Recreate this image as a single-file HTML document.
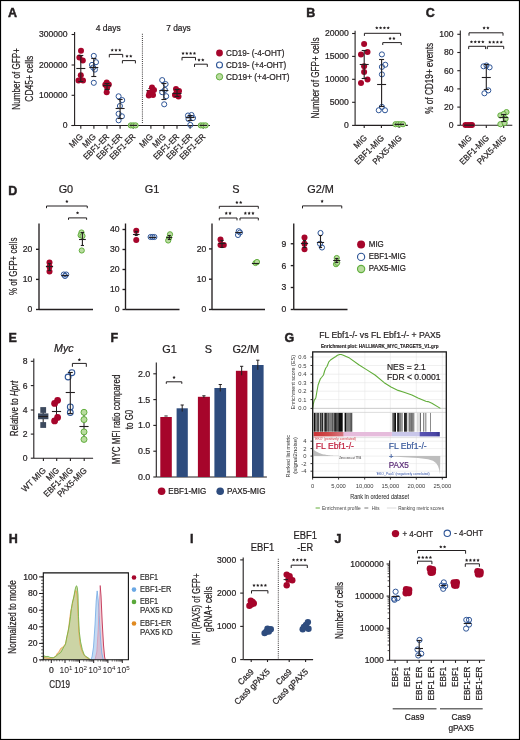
<!DOCTYPE html><html><head><meta charset="utf-8"><style>html,body{margin:0;padding:0;background:#fff;}svg{display:block;will-change:transform;}text{font-family:"Liberation Sans",sans-serif;}</style></head><body>
<svg width="520" height="740" viewBox="0 0 520 740" fill="#231f20">
<rect x="0" y="0" width="520" height="740" fill="#fff"/>
<text x="8" y="16.8" font-size="12.5" font-weight="bold" stroke="#231f20" stroke-width="0.45">A</text>
<text x="108.2" y="30.76" font-size="8.6" text-anchor="middle" stroke="#231f20" stroke-width="0.22" textLength="25" lengthAdjust="spacingAndGlyphs">4 days</text>
<text x="178.5" y="30.76" font-size="8.6" text-anchor="middle" stroke="#231f20" stroke-width="0.22" textLength="24.5" lengthAdjust="spacingAndGlyphs">7 days</text>
<text transform="translate(16.6 78.9) rotate(-90)" x="0" y="3.51" font-size="10.2" text-anchor="middle" stroke="#231f20" stroke-width="0.22" textLength="61.5" lengthAdjust="spacingAndGlyphs">Number of GFP+</text>
<text transform="translate(29 78.65) rotate(-90)" x="0" y="3.51" font-size="10.2" text-anchor="middle" stroke="#231f20" stroke-width="0.22" textLength="46" lengthAdjust="spacingAndGlyphs">CD45+ cells</text>
<line x1="74.6" y1="32" x2="74.6" y2="125.5" stroke="#231f20" stroke-width="1.1"/>
<line x1="71.6" y1="34.5" x2="74.6" y2="34.5" stroke="#231f20" stroke-width="1.1"/>
<text x="67.6" y="37.46" font-size="8.6" text-anchor="end" stroke="#231f20" stroke-width="0.22">300000</text>
<line x1="71.6" y1="65" x2="74.6" y2="65" stroke="#231f20" stroke-width="1.1"/>
<text x="67.6" y="67.96" font-size="8.6" text-anchor="end" stroke="#231f20" stroke-width="0.22">200000</text>
<line x1="71.6" y1="95.3" x2="74.6" y2="95.3" stroke="#231f20" stroke-width="1.1"/>
<text x="67.6" y="98.26" font-size="8.6" text-anchor="end" stroke="#231f20" stroke-width="0.22">100000</text>
<line x1="71.6" y1="125.5" x2="74.6" y2="125.5" stroke="#231f20" stroke-width="1.1"/>
<text x="67.6" y="128.46" font-size="8.6" text-anchor="end" stroke="#231f20" stroke-width="0.22">0</text>
<line x1="71.5" y1="125.5" x2="210" y2="125.5" stroke="#231f20" stroke-width="1.1"/>
<line x1="80.8" y1="125.5" x2="80.8" y2="128.7" stroke="#231f20" stroke-width="1.1"/>
<line x1="93.9" y1="125.5" x2="93.9" y2="128.7" stroke="#231f20" stroke-width="1.1"/>
<line x1="107" y1="125.5" x2="107" y2="128.7" stroke="#231f20" stroke-width="1.1"/>
<line x1="120.1" y1="125.5" x2="120.1" y2="128.7" stroke="#231f20" stroke-width="1.1"/>
<line x1="133.2" y1="125.5" x2="133.2" y2="128.7" stroke="#231f20" stroke-width="1.1"/>
<line x1="150.9" y1="125.5" x2="150.9" y2="128.7" stroke="#231f20" stroke-width="1.1"/>
<line x1="163.9" y1="125.5" x2="163.9" y2="128.7" stroke="#231f20" stroke-width="1.1"/>
<line x1="177" y1="125.5" x2="177" y2="128.7" stroke="#231f20" stroke-width="1.1"/>
<line x1="190.1" y1="125.5" x2="190.1" y2="128.7" stroke="#231f20" stroke-width="1.1"/>
<line x1="203.2" y1="125.5" x2="203.2" y2="128.7" stroke="#231f20" stroke-width="1.1"/>
<line x1="142.4" y1="33.8" x2="142.4" y2="124" stroke="#231f20" stroke-width="1" stroke-dasharray="0.9 1.2"/>
<text transform="translate(81.4 135.2) rotate(-45)" x="0" y="2.96" font-size="8.6" text-anchor="end" stroke="#231f20" stroke-width="0.22" textLength="15.5" lengthAdjust="spacingAndGlyphs">MIG</text>
<text transform="translate(94.5 135.2) rotate(-45)" x="0" y="2.96" font-size="8.6" text-anchor="end" stroke="#231f20" stroke-width="0.22" textLength="15.5" lengthAdjust="spacingAndGlyphs">MIG</text>
<text transform="translate(107.6 135.2) rotate(-45)" x="0" y="2.96" font-size="8.6" text-anchor="end" stroke="#231f20" stroke-width="0.22" textLength="32.5" lengthAdjust="spacingAndGlyphs">EBF1-ER</text>
<text transform="translate(120.7 135.2) rotate(-45)" x="0" y="2.96" font-size="8.6" text-anchor="end" stroke="#231f20" stroke-width="0.22" textLength="32.5" lengthAdjust="spacingAndGlyphs">EBF1-ER</text>
<text transform="translate(133.8 135.2) rotate(-45)" x="0" y="2.96" font-size="8.6" text-anchor="end" stroke="#231f20" stroke-width="0.22" textLength="32.5" lengthAdjust="spacingAndGlyphs">EBF1-ER</text>
<text transform="translate(151.5 135.2) rotate(-45)" x="0" y="2.96" font-size="8.6" text-anchor="end" stroke="#231f20" stroke-width="0.22" textLength="15.5" lengthAdjust="spacingAndGlyphs">MIG</text>
<text transform="translate(164.5 135.2) rotate(-45)" x="0" y="2.96" font-size="8.6" text-anchor="end" stroke="#231f20" stroke-width="0.22" textLength="15.5" lengthAdjust="spacingAndGlyphs">MIG</text>
<text transform="translate(177.6 135.2) rotate(-45)" x="0" y="2.96" font-size="8.6" text-anchor="end" stroke="#231f20" stroke-width="0.22" textLength="32.5" lengthAdjust="spacingAndGlyphs">EBF1-ER</text>
<text transform="translate(190.7 135.2) rotate(-45)" x="0" y="2.96" font-size="8.6" text-anchor="end" stroke="#231f20" stroke-width="0.22" textLength="32.5" lengthAdjust="spacingAndGlyphs">EBF1-ER</text>
<text transform="translate(203.8 135.2) rotate(-45)" x="0" y="2.96" font-size="8.6" text-anchor="end" stroke="#231f20" stroke-width="0.22" textLength="32.5" lengthAdjust="spacingAndGlyphs">EBF1-ER</text>
<circle cx="81" cy="50.8" r="3" fill="#a6052b"/>
<circle cx="79.4" cy="57.5" r="3" fill="#a6052b"/>
<circle cx="82.8" cy="60.5" r="3" fill="#a6052b"/>
<circle cx="80.8" cy="75.3" r="3" fill="#a6052b"/>
<circle cx="78.5" cy="80.5" r="3" fill="#a6052b"/>
<circle cx="83" cy="80.5" r="3" fill="#a6052b"/>
<line x1="76.3" y1="68.5" x2="85.3" y2="68.5" stroke="#231f20" stroke-width="1.1"/>
<line x1="80.8" y1="55.5" x2="80.8" y2="81.5" stroke="#231f20" stroke-width="1.1"/>
<line x1="78.3" y1="55.5" x2="83.3" y2="55.5" stroke="#231f20" stroke-width="1.1"/>
<line x1="78.3" y1="81.5" x2="83.3" y2="81.5" stroke="#231f20" stroke-width="1.1"/>
<circle cx="93.8" cy="55.9" r="2.55" fill="none" stroke="#2e5597" stroke-width="1"/>
<circle cx="96" cy="62.2" r="2.55" fill="none" stroke="#2e5597" stroke-width="1"/>
<circle cx="92" cy="64.9" r="2.55" fill="none" stroke="#2e5597" stroke-width="1"/>
<circle cx="94.9" cy="69.6" r="2.55" fill="none" stroke="#2e5597" stroke-width="1"/>
<circle cx="93.2" cy="67.5" r="2.55" fill="none" stroke="#2e5597" stroke-width="1"/>
<circle cx="93.8" cy="82.8" r="2.55" fill="none" stroke="#2e5597" stroke-width="1"/>
<line x1="89.3" y1="67.5" x2="98.3" y2="67.5" stroke="#231f20" stroke-width="1.1"/>
<line x1="93.8" y1="58.5" x2="93.8" y2="76.5" stroke="#231f20" stroke-width="1.1"/>
<line x1="91.3" y1="58.5" x2="96.3" y2="58.5" stroke="#231f20" stroke-width="1.1"/>
<line x1="91.3" y1="76.5" x2="96.3" y2="76.5" stroke="#231f20" stroke-width="1.1"/>
<circle cx="106.7" cy="82.4" r="3" fill="#a6052b"/>
<circle cx="105.3" cy="84.8" r="3" fill="#a6052b"/>
<circle cx="108.8" cy="84.5" r="3" fill="#a6052b"/>
<circle cx="107.2" cy="87.5" r="3" fill="#a6052b"/>
<circle cx="106.7" cy="92.2" r="3" fill="#a6052b"/>
<line x1="103" y1="85.5" x2="111" y2="85.5" stroke="#231f20" stroke-width="1.1"/>
<line x1="107" y1="83.5" x2="107" y2="89.5" stroke="#231f20" stroke-width="1.1"/>
<line x1="104.5" y1="83.5" x2="109.5" y2="83.5" stroke="#231f20" stroke-width="1.1"/>
<line x1="104.5" y1="89.5" x2="109.5" y2="89.5" stroke="#231f20" stroke-width="1.1"/>
<circle cx="118.6" cy="96.3" r="2.55" fill="none" stroke="#2e5597" stroke-width="1"/>
<circle cx="122.2" cy="100.1" r="2.55" fill="none" stroke="#2e5597" stroke-width="1"/>
<circle cx="119.9" cy="106" r="2.55" fill="none" stroke="#2e5597" stroke-width="1"/>
<circle cx="118.6" cy="113.8" r="2.55" fill="none" stroke="#2e5597" stroke-width="1"/>
<circle cx="121.9" cy="116.3" r="2.55" fill="none" stroke="#2e5597" stroke-width="1"/>
<circle cx="118.6" cy="120.3" r="2.55" fill="none" stroke="#2e5597" stroke-width="1"/>
<line x1="115.6" y1="108.5" x2="124.6" y2="108.5" stroke="#231f20" stroke-width="1.1"/>
<line x1="120.1" y1="99.5" x2="120.1" y2="118.5" stroke="#231f20" stroke-width="1.1"/>
<line x1="117.6" y1="99.5" x2="122.6" y2="99.5" stroke="#231f20" stroke-width="1.1"/>
<line x1="117.6" y1="118.5" x2="122.6" y2="118.5" stroke="#231f20" stroke-width="1.1"/>
<circle cx="130.8" cy="125.4" r="2.6" fill="#b9dc9f" stroke="#62ae3e" stroke-width="1"/>
<circle cx="133.2" cy="125.4" r="2.6" fill="#b9dc9f" stroke="#62ae3e" stroke-width="1"/>
<circle cx="135.6" cy="125.4" r="2.6" fill="#b9dc9f" stroke="#62ae3e" stroke-width="1"/>
<line x1="129.5" y1="125.4" x2="137" y2="125.4" stroke="#231f20" stroke-width="1.2"/>
<line x1="146.4" y1="90.5" x2="155.4" y2="90.5" stroke="#231f20" stroke-width="1.1"/>
<line x1="150.9" y1="88.5" x2="150.9" y2="94.5" stroke="#231f20" stroke-width="1.1"/>
<line x1="148.4" y1="88.5" x2="153.4" y2="88.5" stroke="#231f20" stroke-width="1.1"/>
<line x1="148.4" y1="94.5" x2="153.4" y2="94.5" stroke="#231f20" stroke-width="1.1"/>
<circle cx="152" cy="87.5" r="3" fill="#a6052b"/>
<circle cx="154" cy="90" r="3" fill="#a6052b"/>
<circle cx="149.5" cy="93" r="3" fill="#a6052b"/>
<circle cx="148.8" cy="95.5" r="3" fill="#a6052b"/>
<circle cx="152" cy="92" r="3" fill="#a6052b"/>
<circle cx="153" cy="95" r="3" fill="#a6052b"/>
<circle cx="162.2" cy="80.1" r="2.55" fill="none" stroke="#2e5597" stroke-width="1"/>
<circle cx="165.6" cy="84.1" r="2.55" fill="none" stroke="#2e5597" stroke-width="1"/>
<circle cx="164.9" cy="89.9" r="2.55" fill="none" stroke="#2e5597" stroke-width="1"/>
<circle cx="162.2" cy="92.2" r="2.55" fill="none" stroke="#2e5597" stroke-width="1"/>
<circle cx="166.2" cy="96.2" r="2.55" fill="none" stroke="#2e5597" stroke-width="1"/>
<circle cx="164.2" cy="104.3" r="2.55" fill="none" stroke="#2e5597" stroke-width="1"/>
<line x1="159.4" y1="90.5" x2="168.4" y2="90.5" stroke="#231f20" stroke-width="1.1"/>
<line x1="163.9" y1="83.5" x2="163.9" y2="99.5" stroke="#231f20" stroke-width="1.1"/>
<line x1="161.4" y1="83.5" x2="166.4" y2="83.5" stroke="#231f20" stroke-width="1.1"/>
<line x1="161.4" y1="99.5" x2="166.4" y2="99.5" stroke="#231f20" stroke-width="1.1"/>
<circle cx="176" cy="89" r="3" fill="#a6052b"/>
<circle cx="179" cy="91" r="3" fill="#a6052b"/>
<circle cx="175" cy="95" r="3" fill="#a6052b"/>
<circle cx="178.5" cy="96.5" r="3" fill="#a6052b"/>
<circle cx="176.5" cy="93" r="3" fill="#a6052b"/>
<line x1="172.5" y1="93.5" x2="181.5" y2="93.5" stroke="#231f20" stroke-width="1.1"/>
<line x1="177" y1="89.5" x2="177" y2="96.5" stroke="#231f20" stroke-width="1.1"/>
<line x1="174.5" y1="89.5" x2="179.5" y2="89.5" stroke="#231f20" stroke-width="1.1"/>
<line x1="174.5" y1="96.5" x2="179.5" y2="96.5" stroke="#231f20" stroke-width="1.1"/>
<circle cx="188" cy="115.5" r="2.55" fill="none" stroke="#2e5597" stroke-width="1"/>
<circle cx="191.5" cy="115" r="2.55" fill="none" stroke="#2e5597" stroke-width="1"/>
<circle cx="193" cy="118" r="2.55" fill="none" stroke="#2e5597" stroke-width="1"/>
<circle cx="188.5" cy="119" r="2.55" fill="none" stroke="#2e5597" stroke-width="1"/>
<circle cx="190.3" cy="124.9" r="2.55" fill="none" stroke="#2e5597" stroke-width="1"/>
<line x1="185.6" y1="117.5" x2="194.6" y2="117.5" stroke="#231f20" stroke-width="1.1"/>
<line x1="190.1" y1="115.5" x2="190.1" y2="120.5" stroke="#231f20" stroke-width="1.1"/>
<line x1="187.6" y1="115.5" x2="192.6" y2="115.5" stroke="#231f20" stroke-width="1.1"/>
<line x1="187.6" y1="120.5" x2="192.6" y2="120.5" stroke="#231f20" stroke-width="1.1"/>
<circle cx="200.8" cy="125.4" r="2.6" fill="#b9dc9f" stroke="#62ae3e" stroke-width="1"/>
<circle cx="203.2" cy="125.4" r="2.6" fill="#b9dc9f" stroke="#62ae3e" stroke-width="1"/>
<circle cx="205.6" cy="125.4" r="2.6" fill="#b9dc9f" stroke="#62ae3e" stroke-width="1"/>
<line x1="199.5" y1="125.4" x2="207" y2="125.4" stroke="#231f20" stroke-width="1.2"/>
<polyline points="109.3,57.4 109.3,54.4 122.7,54.4 122.7,57.4" fill="none" stroke="#231f20" stroke-width="1"/>
<polygon points="112.20,48.40 112.70,49.41 113.82,49.57 113.01,50.36 113.20,51.48 112.20,50.95 111.20,51.48 111.39,50.36 110.58,49.57 111.70,49.41" fill="#231f20"/>
<polygon points="116.00,48.40 116.50,49.41 117.62,49.57 116.81,50.36 117.00,51.48 116.00,50.95 115.00,51.48 115.19,50.36 114.38,49.57 115.50,49.41" fill="#231f20"/>
<polygon points="119.80,48.40 120.30,49.41 121.42,49.57 120.61,50.36 120.80,51.48 119.80,50.95 118.80,51.48 118.99,50.36 118.18,49.57 119.30,49.41" fill="#231f20"/>
<polyline points="122.4,63.4 122.4,60.6 135.4,60.6 135.4,63.4" fill="none" stroke="#231f20" stroke-width="1"/>
<polygon points="127.00,54.50 127.50,55.51 128.62,55.67 127.81,56.46 128.00,57.58 127.00,57.05 126.00,57.58 126.19,56.46 125.38,55.67 126.50,55.51" fill="#231f20"/>
<polygon points="130.80,54.50 131.30,55.51 132.42,55.67 131.61,56.46 131.80,57.58 130.80,57.05 129.80,57.58 129.99,56.46 129.18,55.67 130.30,55.51" fill="#231f20"/>
<polyline points="182,60.4 182,57.4 195.5,57.4 195.5,60.4" fill="none" stroke="#231f20" stroke-width="1"/>
<polygon points="183.05,51.70 183.55,52.71 184.67,52.87 183.86,53.66 184.05,54.78 183.05,54.25 182.05,54.78 182.24,53.66 181.43,52.87 182.55,52.71" fill="#231f20"/>
<polygon points="186.85,51.70 187.35,52.71 188.47,52.87 187.66,53.66 187.85,54.78 186.85,54.25 185.85,54.78 186.04,53.66 185.23,52.87 186.35,52.71" fill="#231f20"/>
<polygon points="190.65,51.70 191.15,52.71 192.27,52.87 191.46,53.66 191.65,54.78 190.65,54.25 189.65,54.78 189.84,53.66 189.03,52.87 190.15,52.71" fill="#231f20"/>
<polygon points="194.45,51.70 194.95,52.71 196.07,52.87 195.26,53.66 195.45,54.78 194.45,54.25 193.45,54.78 193.64,53.66 192.83,52.87 193.95,52.71" fill="#231f20"/>
<polyline points="194.5,66.9 194.5,64.2 207.3,64.2 207.3,66.9" fill="none" stroke="#231f20" stroke-width="1"/>
<polygon points="199.00,58.30 199.50,59.31 200.62,59.47 199.81,60.26 200.00,61.38 199.00,60.85 198.00,61.38 198.19,60.26 197.38,59.47 198.50,59.31" fill="#231f20"/>
<polygon points="202.80,58.30 203.30,59.31 204.42,59.47 203.61,60.26 203.80,61.38 202.80,60.85 201.80,61.38 201.99,60.26 201.18,59.47 202.30,59.31" fill="#231f20"/>
<circle cx="219.5" cy="53" r="3.4" fill="#a6052b"/>
<circle cx="219.5" cy="65" r="3" fill="none" stroke="#2e5597" stroke-width="1.1"/>
<circle cx="219.5" cy="76.75" r="3.2" fill="#b9dc9f" stroke="#62ae3e" stroke-width="1"/>
<text x="226" y="55.96" font-size="8.6" stroke="#231f20" stroke-width="0.22" textLength="58.5" lengthAdjust="spacingAndGlyphs">CD19- (-4-OHT)</text>
<text x="226" y="67.96" font-size="8.6" stroke="#231f20" stroke-width="0.22" textLength="60.3" lengthAdjust="spacingAndGlyphs">CD19- (+4-OHT)</text>
<text x="226" y="79.71" font-size="8.6" stroke="#231f20" stroke-width="0.22" textLength="63.5" lengthAdjust="spacingAndGlyphs">CD19+ (+4-OHT)</text>
<text x="306.2" y="16.8" font-size="12.5" font-weight="bold" stroke="#231f20" stroke-width="0.45">B</text>
<text transform="translate(315.8 77.9) rotate(-90)" x="0" y="3.51" font-size="10.2" text-anchor="middle" stroke="#231f20" stroke-width="0.22" textLength="81" lengthAdjust="spacingAndGlyphs">Number of GFP+ cells</text>
<line x1="355.1" y1="30.8" x2="355.1" y2="125.4" stroke="#231f20" stroke-width="1.1"/>
<line x1="352.1" y1="33.5" x2="355.1" y2="33.5" stroke="#231f20" stroke-width="1.1"/>
<text x="348.8" y="36.46" font-size="8.6" text-anchor="end" stroke="#231f20" stroke-width="0.22">20000</text>
<line x1="352.1" y1="56.4" x2="355.1" y2="56.4" stroke="#231f20" stroke-width="1.1"/>
<text x="348.8" y="59.36" font-size="8.6" text-anchor="end" stroke="#231f20" stroke-width="0.22">15000</text>
<line x1="352.1" y1="79.3" x2="355.1" y2="79.3" stroke="#231f20" stroke-width="1.1"/>
<text x="348.8" y="82.26" font-size="8.6" text-anchor="end" stroke="#231f20" stroke-width="0.22">10000</text>
<line x1="352.1" y1="102.3" x2="355.1" y2="102.3" stroke="#231f20" stroke-width="1.1"/>
<text x="348.8" y="105.26" font-size="8.6" text-anchor="end" stroke="#231f20" stroke-width="0.22">5000</text>
<line x1="352.1" y1="125.4" x2="355.1" y2="125.4" stroke="#231f20" stroke-width="1.1"/>
<text x="348.8" y="128.36" font-size="8.6" text-anchor="end" stroke="#231f20" stroke-width="0.22">0</text>
<line x1="355.1" y1="125.4" x2="407.8" y2="125.4" stroke="#231f20" stroke-width="1.1"/>
<line x1="364.2" y1="125.4" x2="364.2" y2="128" stroke="#231f20" stroke-width="1.1"/>
<line x1="381.4" y1="125.4" x2="381.4" y2="128" stroke="#231f20" stroke-width="1.1"/>
<line x1="399.1" y1="125.4" x2="399.1" y2="128" stroke="#231f20" stroke-width="1.1"/>
<text transform="translate(365.4 136.4) rotate(-45)" x="0" y="2.96" font-size="8.6" text-anchor="end" stroke="#231f20" stroke-width="0.22" textLength="14.7" lengthAdjust="spacingAndGlyphs">MIG</text>
<text transform="translate(382.6 136.4) rotate(-45)" x="0" y="2.96" font-size="8.6" text-anchor="end" stroke="#231f20" stroke-width="0.22" textLength="37.7" lengthAdjust="spacingAndGlyphs">EBF1-MIG</text>
<text transform="translate(400.3 136.4) rotate(-45)" x="0" y="2.96" font-size="8.6" text-anchor="end" stroke="#231f20" stroke-width="0.22" textLength="37.5" lengthAdjust="spacingAndGlyphs">PAX5-MIG</text>
<circle cx="364.1" cy="44" r="3" fill="#a6052b"/>
<circle cx="367.5" cy="51.9" r="3" fill="#a6052b"/>
<circle cx="361" cy="54.4" r="3" fill="#a6052b"/>
<circle cx="364.1" cy="66.25" r="3" fill="#a6052b"/>
<circle cx="364.1" cy="71.9" r="3" fill="#a6052b"/>
<circle cx="367.5" cy="79.6" r="3" fill="#a6052b"/>
<circle cx="361" cy="83" r="3" fill="#a6052b"/>
<line x1="359.7" y1="64.5" x2="368.7" y2="64.5" stroke="#231f20" stroke-width="1.1"/>
<line x1="364.2" y1="50.5" x2="364.2" y2="78.5" stroke="#231f20" stroke-width="1.1"/>
<line x1="361.7" y1="50.5" x2="366.7" y2="50.5" stroke="#231f20" stroke-width="1.1"/>
<line x1="361.7" y1="78.5" x2="366.7" y2="78.5" stroke="#231f20" stroke-width="1.1"/>
<circle cx="381.9" cy="54.4" r="2.55" fill="none" stroke="#2e5597" stroke-width="1"/>
<circle cx="385.25" cy="64.75" r="2.55" fill="none" stroke="#2e5597" stroke-width="1"/>
<circle cx="381.9" cy="66.9" r="2.55" fill="none" stroke="#2e5597" stroke-width="1"/>
<circle cx="381.9" cy="74.4" r="2.55" fill="none" stroke="#2e5597" stroke-width="1"/>
<circle cx="381.9" cy="106.9" r="2.55" fill="none" stroke="#2e5597" stroke-width="1"/>
<circle cx="378.75" cy="110.25" r="2.55" fill="none" stroke="#2e5597" stroke-width="1"/>
<circle cx="385" cy="110.25" r="2.55" fill="none" stroke="#2e5597" stroke-width="1"/>
<line x1="377.1" y1="84.5" x2="386.1" y2="84.5" stroke="#231f20" stroke-width="1.1"/>
<line x1="381.6" y1="59.5" x2="381.6" y2="106.5" stroke="#231f20" stroke-width="1.1"/>
<line x1="379.1" y1="59.5" x2="384.1" y2="59.5" stroke="#231f20" stroke-width="1.1"/>
<line x1="379.1" y1="106.5" x2="384.1" y2="106.5" stroke="#231f20" stroke-width="1.1"/>
<circle cx="395.5" cy="124.2" r="2.6" fill="#b9dc9f" stroke="#62ae3e" stroke-width="1"/>
<circle cx="398" cy="124.2" r="2.6" fill="#b9dc9f" stroke="#62ae3e" stroke-width="1"/>
<circle cx="400.5" cy="124.2" r="2.6" fill="#b9dc9f" stroke="#62ae3e" stroke-width="1"/>
<circle cx="403" cy="124.2" r="2.6" fill="#b9dc9f" stroke="#62ae3e" stroke-width="1"/>
<line x1="394.5" y1="124.4" x2="404" y2="124.4" stroke="#231f20" stroke-width="1.4"/>
<polyline points="364.4,35.9 364.4,33.3 400.6,33.3 400.6,35.9" fill="none" stroke="#231f20" stroke-width="1"/>
<polygon points="376.80,26.20 377.30,27.21 378.42,27.37 377.61,28.16 377.80,29.28 376.80,28.75 375.80,29.28 375.99,28.16 375.18,27.37 376.30,27.21" fill="#231f20"/>
<polygon points="380.60,26.20 381.10,27.21 382.22,27.37 381.41,28.16 381.60,29.28 380.60,28.75 379.60,29.28 379.79,28.16 378.98,27.37 380.10,27.21" fill="#231f20"/>
<polygon points="384.40,26.20 384.90,27.21 386.02,27.37 385.21,28.16 385.40,29.28 384.40,28.75 383.40,29.28 383.59,28.16 382.78,27.37 383.90,27.21" fill="#231f20"/>
<polygon points="388.20,26.20 388.70,27.21 389.82,27.37 389.01,28.16 389.20,29.28 388.20,28.75 387.20,29.28 387.39,28.16 386.58,27.37 387.70,27.21" fill="#231f20"/>
<polyline points="382.75,45 382.75,42.6 401.25,42.6 401.25,45" fill="none" stroke="#231f20" stroke-width="1"/>
<polygon points="390.10,36.80 390.60,37.81 391.72,37.97 390.91,38.76 391.10,39.88 390.10,39.35 389.10,39.88 389.29,38.76 388.48,37.97 389.60,37.81" fill="#231f20"/>
<polygon points="393.90,36.80 394.40,37.81 395.52,37.97 394.71,38.76 394.90,39.88 393.90,39.35 392.90,39.88 393.09,38.76 392.28,37.97 393.40,37.81" fill="#231f20"/>
<text x="425.8" y="16.8" font-size="12.5" font-weight="bold" stroke="#231f20" stroke-width="0.45">C</text>
<text transform="translate(429.6 78.3) rotate(-90)" x="0" y="3.51" font-size="10.2" text-anchor="middle" stroke="#231f20" stroke-width="0.22" textLength="71" lengthAdjust="spacingAndGlyphs">% of CD19+ events</text>
<line x1="460.3" y1="30.6" x2="460.3" y2="125.3" stroke="#231f20" stroke-width="1.1"/>
<line x1="457.3" y1="34.3" x2="460.3" y2="34.3" stroke="#231f20" stroke-width="1.1"/>
<text x="453.6" y="37.26" font-size="8.6" text-anchor="end" stroke="#231f20" stroke-width="0.22">100</text>
<line x1="457.3" y1="52.5" x2="460.3" y2="52.5" stroke="#231f20" stroke-width="1.1"/>
<text x="453.6" y="55.46" font-size="8.6" text-anchor="end" stroke="#231f20" stroke-width="0.22">80</text>
<line x1="457.3" y1="70.7" x2="460.3" y2="70.7" stroke="#231f20" stroke-width="1.1"/>
<text x="453.6" y="73.66" font-size="8.6" text-anchor="end" stroke="#231f20" stroke-width="0.22">60</text>
<line x1="457.3" y1="88.9" x2="460.3" y2="88.9" stroke="#231f20" stroke-width="1.1"/>
<text x="453.6" y="91.86" font-size="8.6" text-anchor="end" stroke="#231f20" stroke-width="0.22">40</text>
<line x1="457.3" y1="107.1" x2="460.3" y2="107.1" stroke="#231f20" stroke-width="1.1"/>
<text x="453.6" y="110.06" font-size="8.6" text-anchor="end" stroke="#231f20" stroke-width="0.22">20</text>
<line x1="457.3" y1="125.3" x2="460.3" y2="125.3" stroke="#231f20" stroke-width="1.1"/>
<text x="453.6" y="128.26" font-size="8.6" text-anchor="end" stroke="#231f20" stroke-width="0.22">0</text>
<line x1="460.3" y1="125.3" x2="512.3" y2="125.3" stroke="#231f20" stroke-width="1.1"/>
<line x1="469" y1="125.3" x2="469" y2="127.9" stroke="#231f20" stroke-width="1.1"/>
<line x1="486.3" y1="125.3" x2="486.3" y2="127.9" stroke="#231f20" stroke-width="1.1"/>
<line x1="503.7" y1="125.3" x2="503.7" y2="127.9" stroke="#231f20" stroke-width="1.1"/>
<text transform="translate(470.2 136.4) rotate(-45)" x="0" y="2.96" font-size="8.6" text-anchor="end" stroke="#231f20" stroke-width="0.22" textLength="14.7" lengthAdjust="spacingAndGlyphs">MIG</text>
<text transform="translate(487.5 136.4) rotate(-45)" x="0" y="2.96" font-size="8.6" text-anchor="end" stroke="#231f20" stroke-width="0.22" textLength="37.7" lengthAdjust="spacingAndGlyphs">EBF1-MIG</text>
<text transform="translate(504.9 136.4) rotate(-45)" x="0" y="2.96" font-size="8.6" text-anchor="end" stroke="#231f20" stroke-width="0.22" textLength="37.5" lengthAdjust="spacingAndGlyphs">PAX5-MIG</text>
<circle cx="465.5" cy="125.1" r="3" fill="#a6052b"/>
<circle cx="468" cy="125.1" r="3" fill="#a6052b"/>
<circle cx="470.5" cy="125.1" r="3" fill="#a6052b"/>
<circle cx="472" cy="125.1" r="3" fill="#a6052b"/>
<line x1="464" y1="125.2" x2="474" y2="125.2" stroke="#231f20" stroke-width="1.3"/>
<circle cx="483.5" cy="66.3" r="2.55" fill="none" stroke="#2e5597" stroke-width="1"/>
<circle cx="489.6" cy="67.3" r="2.55" fill="none" stroke="#2e5597" stroke-width="1"/>
<circle cx="486.5" cy="65.5" r="2.55" fill="none" stroke="#2e5597" stroke-width="1"/>
<circle cx="484.4" cy="93.3" r="2.55" fill="none" stroke="#2e5597" stroke-width="1"/>
<circle cx="488.3" cy="90.4" r="2.55" fill="none" stroke="#2e5597" stroke-width="1"/>
<line x1="481.8" y1="77.5" x2="490.8" y2="77.5" stroke="#231f20" stroke-width="1.1"/>
<line x1="486.3" y1="64.5" x2="486.3" y2="89.5" stroke="#231f20" stroke-width="1.1"/>
<line x1="483.8" y1="64.5" x2="488.8" y2="64.5" stroke="#231f20" stroke-width="1.1"/>
<line x1="483.8" y1="89.5" x2="488.8" y2="89.5" stroke="#231f20" stroke-width="1.1"/>
<circle cx="506.5" cy="112.1" r="2.6" fill="#b9dc9f" stroke="#62ae3e" stroke-width="1"/>
<circle cx="500.4" cy="115.4" r="2.6" fill="#b9dc9f" stroke="#62ae3e" stroke-width="1"/>
<circle cx="503.7" cy="114" r="2.6" fill="#b9dc9f" stroke="#62ae3e" stroke-width="1"/>
<circle cx="505.6" cy="118.8" r="2.6" fill="#b9dc9f" stroke="#62ae3e" stroke-width="1"/>
<circle cx="500.4" cy="124.2" r="2.6" fill="#b9dc9f" stroke="#62ae3e" stroke-width="1"/>
<circle cx="504.6" cy="123" r="2.6" fill="#b9dc9f" stroke="#62ae3e" stroke-width="1"/>
<line x1="499.2" y1="117.5" x2="508.2" y2="117.5" stroke="#231f20" stroke-width="1.1"/>
<line x1="503.7" y1="114.5" x2="503.7" y2="121.5" stroke="#231f20" stroke-width="1.1"/>
<line x1="501.2" y1="114.5" x2="506.2" y2="114.5" stroke="#231f20" stroke-width="1.1"/>
<line x1="501.2" y1="121.5" x2="506.2" y2="121.5" stroke="#231f20" stroke-width="1.1"/>
<polyline points="469,35.7 469,32.8 503,32.8 503,35.7" fill="none" stroke="#231f20" stroke-width="1"/>
<polygon points="484.10,26.30 484.60,27.31 485.72,27.47 484.91,28.26 485.10,29.38 484.10,28.85 483.10,29.38 483.29,28.26 482.48,27.47 483.60,27.31" fill="#231f20"/>
<polygon points="487.90,26.30 488.40,27.31 489.52,27.47 488.71,28.26 488.90,29.38 487.90,28.85 486.90,29.38 487.09,28.26 486.28,27.47 487.40,27.31" fill="#231f20"/>
<polyline points="468.7,49.1 468.7,46.3 485.6,46.3 485.6,49.1" fill="none" stroke="#231f20" stroke-width="1"/>
<polygon points="471.45,40.20 471.95,41.21 473.07,41.37 472.26,42.16 472.45,43.28 471.45,42.75 470.45,43.28 470.64,42.16 469.83,41.37 470.95,41.21" fill="#231f20"/>
<polygon points="475.25,40.20 475.75,41.21 476.87,41.37 476.06,42.16 476.25,43.28 475.25,42.75 474.25,43.28 474.44,42.16 473.63,41.37 474.75,41.21" fill="#231f20"/>
<polygon points="479.05,40.20 479.55,41.21 480.67,41.37 479.86,42.16 480.05,43.28 479.05,42.75 478.05,43.28 478.24,42.16 477.43,41.37 478.55,41.21" fill="#231f20"/>
<polygon points="482.85,40.20 483.35,41.21 484.47,41.37 483.66,42.16 483.85,43.28 482.85,42.75 481.85,43.28 482.04,42.16 481.23,41.37 482.35,41.21" fill="#231f20"/>
<polyline points="487.3,49.1 487.3,46.3 503.7,46.3 503.7,49.1" fill="none" stroke="#231f20" stroke-width="1"/>
<polygon points="489.80,40.50 490.30,41.51 491.42,41.67 490.61,42.46 490.80,43.58 489.80,43.05 488.80,43.58 488.99,42.46 488.18,41.67 489.30,41.51" fill="#231f20"/>
<polygon points="493.60,40.50 494.10,41.51 495.22,41.67 494.41,42.46 494.60,43.58 493.60,43.05 492.60,43.58 492.79,42.46 491.98,41.67 493.10,41.51" fill="#231f20"/>
<polygon points="497.40,40.50 497.90,41.51 499.02,41.67 498.21,42.46 498.40,43.58 497.40,43.05 496.40,43.58 496.59,42.46 495.78,41.67 496.90,41.51" fill="#231f20"/>
<polygon points="501.20,40.50 501.70,41.51 502.82,41.67 502.01,42.46 502.20,43.58 501.20,43.05 500.20,43.58 500.39,42.46 499.58,41.67 500.70,41.51" fill="#231f20"/>
<text x="8.2" y="194.9" font-size="12.5" font-weight="bold" stroke="#231f20" stroke-width="0.45">D</text>
<text x="65.9" y="193.15" font-size="10.9" text-anchor="middle" stroke="#231f20" stroke-width="0.22">G0</text>
<text x="152.1" y="193.15" font-size="10.9" text-anchor="middle" stroke="#231f20" stroke-width="0.22">G1</text>
<text x="236" y="193.15" font-size="10.9" text-anchor="middle" stroke="#231f20" stroke-width="0.22">S</text>
<text x="320.6" y="193.15" font-size="10.9" text-anchor="middle" stroke="#231f20" stroke-width="0.22">G2/M</text>
<text transform="translate(13.8 266.3) rotate(-90)" x="0" y="3.51" font-size="10.2" text-anchor="middle" stroke="#231f20" stroke-width="0.22" textLength="57.4" lengthAdjust="spacingAndGlyphs">% of GFP+ cells</text>
<line x1="39" y1="223.5" x2="39" y2="309.5" stroke="#231f20" stroke-width="1.35"/>
<line x1="36" y1="249.3" x2="39" y2="249.3" stroke="#231f20" stroke-width="1.35"/>
<text x="32.2" y="252.26" font-size="8.6" text-anchor="end" stroke="#231f20" stroke-width="0.22">20</text>
<line x1="36" y1="279.4" x2="39" y2="279.4" stroke="#231f20" stroke-width="1.35"/>
<text x="32.2" y="282.36" font-size="8.6" text-anchor="end" stroke="#231f20" stroke-width="0.22">10</text>
<line x1="36" y1="309.5" x2="39" y2="309.5" stroke="#231f20" stroke-width="1.35"/>
<text x="32.2" y="312.46" font-size="8.6" text-anchor="end" stroke="#231f20" stroke-width="0.22">0</text>
<line x1="39" y1="309.5" x2="93" y2="309.5" stroke="#231f20" stroke-width="1.35"/>
<circle cx="49.5" cy="262.5" r="3" fill="#a6052b"/>
<circle cx="49.5" cy="266.8" r="3" fill="#a6052b"/>
<circle cx="49.5" cy="271.5" r="3" fill="#a6052b"/>
<line x1="45.9" y1="266.5" x2="53.1" y2="266.5" stroke="#231f20" stroke-width="1.1"/>
<line x1="49.5" y1="263.5" x2="49.5" y2="270.5" stroke="#231f20" stroke-width="1.1"/>
<line x1="47.9" y1="263.5" x2="51.1" y2="263.5" stroke="#231f20" stroke-width="1.1"/>
<line x1="47.9" y1="270.5" x2="51.1" y2="270.5" stroke="#231f20" stroke-width="1.1"/>
<circle cx="63.8" cy="274.5" r="2.55" fill="none" stroke="#2e5597" stroke-width="1"/>
<circle cx="66.2" cy="274.5" r="2.55" fill="none" stroke="#2e5597" stroke-width="1"/>
<circle cx="65" cy="276" r="2.55" fill="none" stroke="#2e5597" stroke-width="1"/>
<line x1="61.4" y1="275.5" x2="68.6" y2="275.5" stroke="#231f20" stroke-width="1.1"/>
<circle cx="81.5" cy="232.5" r="2.6" fill="#b9dc9f" stroke="#62ae3e" stroke-width="1"/>
<circle cx="80.6" cy="235.2" r="2.6" fill="#b9dc9f" stroke="#62ae3e" stroke-width="1"/>
<circle cx="82.5" cy="236" r="2.6" fill="#b9dc9f" stroke="#62ae3e" stroke-width="1"/>
<circle cx="81.75" cy="250.5" r="2.6" fill="#b9dc9f" stroke="#62ae3e" stroke-width="1"/>
<line x1="79" y1="239.5" x2="85.8" y2="239.5" stroke="#231f20" stroke-width="1.1"/>
<line x1="82.4" y1="232.5" x2="82.4" y2="245.5" stroke="#231f20" stroke-width="1.1"/>
<line x1="80.8" y1="232.5" x2="84" y2="232.5" stroke="#231f20" stroke-width="1.1"/>
<line x1="80.8" y1="245.5" x2="84" y2="245.5" stroke="#231f20" stroke-width="1.1"/>
<polyline points="46.5,208.2 46.5,206 87.25,206 87.25,208.2" fill="none" stroke="#231f20" stroke-width="1"/>
<polygon points="66.88,199.80 67.37,200.81 68.49,200.97 67.68,201.76 67.87,202.88 66.88,202.35 65.88,202.88 66.07,201.76 65.26,200.97 66.38,200.81" fill="#231f20"/>
<polyline points="68.5,219.8 68.5,217.9 86.6,217.9 86.6,219.8" fill="none" stroke="#231f20" stroke-width="1"/>
<polygon points="77.55,211.20 78.05,212.21 79.17,212.37 78.36,213.16 78.55,214.28 77.55,213.75 76.55,214.28 76.74,213.16 75.93,212.37 77.05,212.21" fill="#231f20"/>
<line x1="125.5" y1="223.5" x2="125.5" y2="309.5" stroke="#231f20" stroke-width="1.35"/>
<line x1="122.5" y1="229.5" x2="125.5" y2="229.5" stroke="#231f20" stroke-width="1.35"/>
<text x="119.5" y="232.46" font-size="8.6" text-anchor="end" stroke="#231f20" stroke-width="0.22">40</text>
<line x1="122.5" y1="249.5" x2="125.5" y2="249.5" stroke="#231f20" stroke-width="1.35"/>
<text x="119.5" y="252.46" font-size="8.6" text-anchor="end" stroke="#231f20" stroke-width="0.22">30</text>
<line x1="122.5" y1="269.5" x2="125.5" y2="269.5" stroke="#231f20" stroke-width="1.35"/>
<text x="119.5" y="272.46" font-size="8.6" text-anchor="end" stroke="#231f20" stroke-width="0.22">20</text>
<line x1="122.5" y1="289.5" x2="125.5" y2="289.5" stroke="#231f20" stroke-width="1.35"/>
<text x="119.5" y="292.46" font-size="8.6" text-anchor="end" stroke="#231f20" stroke-width="0.22">10</text>
<line x1="122.5" y1="309.5" x2="125.5" y2="309.5" stroke="#231f20" stroke-width="1.35"/>
<text x="119.5" y="312.46" font-size="8.6" text-anchor="end" stroke="#231f20" stroke-width="0.22">0</text>
<line x1="125.5" y1="309.5" x2="179.5" y2="309.5" stroke="#231f20" stroke-width="1.35"/>
<circle cx="136.25" cy="230.8" r="3" fill="#a6052b"/>
<circle cx="136.25" cy="240" r="3" fill="#a6052b"/>
<line x1="132.95" y1="234.5" x2="139.55" y2="234.5" stroke="#231f20" stroke-width="1.1"/>
<line x1="136.25" y1="231.5" x2="136.25" y2="235.5" stroke="#231f20" stroke-width="1.1"/>
<line x1="134.75" y1="231.5" x2="137.75" y2="231.5" stroke="#231f20" stroke-width="1.1"/>
<line x1="134.75" y1="235.5" x2="137.75" y2="235.5" stroke="#231f20" stroke-width="1.1"/>
<circle cx="150.6" cy="237" r="2.55" fill="none" stroke="#2e5597" stroke-width="1"/>
<circle cx="152.5" cy="237" r="2.55" fill="none" stroke="#2e5597" stroke-width="1"/>
<circle cx="154.4" cy="237" r="2.55" fill="none" stroke="#2e5597" stroke-width="1"/>
<line x1="148.9" y1="237.5" x2="156.1" y2="237.5" stroke="#231f20" stroke-width="1.1"/>
<circle cx="170" cy="234.3" r="2.6" fill="#b9dc9f" stroke="#62ae3e" stroke-width="1"/>
<circle cx="169" cy="238" r="2.6" fill="#b9dc9f" stroke="#62ae3e" stroke-width="1"/>
<circle cx="168.2" cy="240.5" r="2.6" fill="#b9dc9f" stroke="#62ae3e" stroke-width="1"/>
<line x1="166.3" y1="237.5" x2="172.3" y2="237.5" stroke="#231f20" stroke-width="1.1"/>
<line x1="169.3" y1="235.5" x2="169.3" y2="239.5" stroke="#231f20" stroke-width="1.1"/>
<line x1="167.8" y1="235.5" x2="170.8" y2="235.5" stroke="#231f20" stroke-width="1.1"/>
<line x1="167.8" y1="239.5" x2="170.8" y2="239.5" stroke="#231f20" stroke-width="1.1"/>
<line x1="212" y1="223.5" x2="212" y2="309.5" stroke="#231f20" stroke-width="1.35"/>
<line x1="209" y1="248.9" x2="212" y2="248.9" stroke="#231f20" stroke-width="1.35"/>
<text x="206.3" y="251.86" font-size="8.6" text-anchor="end" stroke="#231f20" stroke-width="0.22">20</text>
<line x1="209" y1="279.2" x2="212" y2="279.2" stroke="#231f20" stroke-width="1.35"/>
<text x="206.3" y="282.16" font-size="8.6" text-anchor="end" stroke="#231f20" stroke-width="0.22">10</text>
<line x1="209" y1="309.5" x2="212" y2="309.5" stroke="#231f20" stroke-width="1.35"/>
<text x="206.3" y="312.46" font-size="8.6" text-anchor="end" stroke="#231f20" stroke-width="0.22">0</text>
<line x1="212" y1="309.5" x2="265" y2="309.5" stroke="#231f20" stroke-width="1.35"/>
<circle cx="220.5" cy="239.5" r="3" fill="#a6052b"/>
<circle cx="220.5" cy="245" r="3" fill="#a6052b"/>
<circle cx="223.8" cy="245" r="3" fill="#a6052b"/>
<line x1="218.4" y1="243.5" x2="225.6" y2="243.5" stroke="#231f20" stroke-width="1.1"/>
<line x1="222" y1="240.5" x2="222" y2="247.5" stroke="#231f20" stroke-width="1.1"/>
<line x1="220.4" y1="240.5" x2="223.6" y2="240.5" stroke="#231f20" stroke-width="1.1"/>
<line x1="220.4" y1="247.5" x2="223.6" y2="247.5" stroke="#231f20" stroke-width="1.1"/>
<circle cx="238.75" cy="231.2" r="2.55" fill="none" stroke="#2e5597" stroke-width="1"/>
<circle cx="238" cy="235" r="2.55" fill="none" stroke="#2e5597" stroke-width="1"/>
<circle cx="240" cy="232.5" r="2.55" fill="none" stroke="#2e5597" stroke-width="1"/>
<line x1="235.15" y1="232.5" x2="242.35" y2="232.5" stroke="#231f20" stroke-width="1.1"/>
<circle cx="255.5" cy="263" r="2.6" fill="#b9dc9f" stroke="#62ae3e" stroke-width="1"/>
<circle cx="257" cy="262" r="2.6" fill="#b9dc9f" stroke="#62ae3e" stroke-width="1"/>
<line x1="251.9" y1="263.5" x2="259.1" y2="263.5" stroke="#231f20" stroke-width="1.1"/>
<polyline points="219.3,208.7 219.3,206.3 258.3,206.3 258.3,208.7" fill="none" stroke="#231f20" stroke-width="1"/>
<polygon points="236.90,200.80 237.40,201.81 238.52,201.97 237.71,202.76 237.90,203.88 236.90,203.35 235.90,203.88 236.09,202.76 235.28,201.97 236.40,201.81" fill="#231f20"/>
<polygon points="240.70,200.80 241.20,201.81 242.32,201.97 241.51,202.76 241.70,203.88 240.70,203.35 239.70,203.88 239.89,202.76 239.08,201.97 240.20,201.81" fill="#231f20"/>
<polyline points="219.3,220.4 219.3,218 237,218 237,220.4" fill="none" stroke="#231f20" stroke-width="1"/>
<polygon points="226.25,211.60 226.75,212.61 227.87,212.77 227.06,213.56 227.25,214.68 226.25,214.15 225.25,214.68 225.44,213.56 224.63,212.77 225.75,212.61" fill="#231f20"/>
<polygon points="230.05,211.60 230.55,212.61 231.67,212.77 230.86,213.56 231.05,214.68 230.05,214.15 229.05,214.68 229.24,213.56 228.43,212.77 229.55,212.61" fill="#231f20"/>
<polyline points="240,220.4 240,218 258.3,218 258.3,220.4" fill="none" stroke="#231f20" stroke-width="1"/>
<polygon points="245.35,211.60 245.85,212.61 246.97,212.77 246.16,213.56 246.35,214.68 245.35,214.15 244.35,214.68 244.54,213.56 243.73,212.77 244.85,212.61" fill="#231f20"/>
<polygon points="249.15,211.60 249.65,212.61 250.77,212.77 249.96,213.56 250.15,214.68 249.15,214.15 248.15,214.68 248.34,213.56 247.53,212.77 248.65,212.61" fill="#231f20"/>
<polygon points="252.95,211.60 253.45,212.61 254.57,212.77 253.76,213.56 253.95,214.68 252.95,214.15 251.95,214.68 252.14,213.56 251.33,212.77 252.45,212.61" fill="#231f20"/>
<line x1="293.75" y1="223.5" x2="293.75" y2="309.5" stroke="#231f20" stroke-width="1.35"/>
<line x1="290.75" y1="243.75" x2="293.75" y2="243.75" stroke="#231f20" stroke-width="1.35"/>
<text x="286.3" y="246.71" font-size="8.6" text-anchor="end" stroke="#231f20" stroke-width="0.22">9</text>
<line x1="290.75" y1="265.6" x2="293.75" y2="265.6" stroke="#231f20" stroke-width="1.35"/>
<text x="286.3" y="268.56" font-size="8.6" text-anchor="end" stroke="#231f20" stroke-width="0.22">6</text>
<line x1="290.75" y1="287.5" x2="293.75" y2="287.5" stroke="#231f20" stroke-width="1.35"/>
<text x="286.3" y="290.46" font-size="8.6" text-anchor="end" stroke="#231f20" stroke-width="0.22">3</text>
<line x1="290.75" y1="309.5" x2="293.75" y2="309.5" stroke="#231f20" stroke-width="1.35"/>
<text x="286.3" y="312.46" font-size="8.6" text-anchor="end" stroke="#231f20" stroke-width="0.22">0</text>
<line x1="293.75" y1="309.5" x2="347.5" y2="309.5" stroke="#231f20" stroke-width="1.35"/>
<circle cx="304.5" cy="237.5" r="3" fill="#a6052b"/>
<circle cx="304.5" cy="243.75" r="3" fill="#a6052b"/>
<circle cx="304.5" cy="249.25" r="3" fill="#a6052b"/>
<line x1="300.9" y1="243.5" x2="308.1" y2="243.5" stroke="#231f20" stroke-width="1.1"/>
<line x1="304.5" y1="240.5" x2="304.5" y2="247.5" stroke="#231f20" stroke-width="1.1"/>
<line x1="302.9" y1="240.5" x2="306.1" y2="240.5" stroke="#231f20" stroke-width="1.1"/>
<line x1="302.9" y1="247.5" x2="306.1" y2="247.5" stroke="#231f20" stroke-width="1.1"/>
<circle cx="320.5" cy="233" r="2.55" fill="none" stroke="#2e5597" stroke-width="1"/>
<circle cx="320" cy="243.75" r="2.55" fill="none" stroke="#2e5597" stroke-width="1"/>
<circle cx="322" cy="247.5" r="2.55" fill="none" stroke="#2e5597" stroke-width="1"/>
<line x1="316.9" y1="242.5" x2="324.1" y2="242.5" stroke="#231f20" stroke-width="1.1"/>
<line x1="320.5" y1="235.5" x2="320.5" y2="247.5" stroke="#231f20" stroke-width="1.1"/>
<line x1="318.9" y1="235.5" x2="322.1" y2="235.5" stroke="#231f20" stroke-width="1.1"/>
<line x1="318.9" y1="247.5" x2="322.1" y2="247.5" stroke="#231f20" stroke-width="1.1"/>
<circle cx="336.75" cy="258" r="2.6" fill="#b9dc9f" stroke="#62ae3e" stroke-width="1"/>
<circle cx="336" cy="264.2" r="2.6" fill="#b9dc9f" stroke="#62ae3e" stroke-width="1"/>
<circle cx="337.2" cy="262.8" r="2.6" fill="#b9dc9f" stroke="#62ae3e" stroke-width="1"/>
<line x1="333.15" y1="260.5" x2="340.35" y2="260.5" stroke="#231f20" stroke-width="1.1"/>
<line x1="336.75" y1="258.5" x2="336.75" y2="262.5" stroke="#231f20" stroke-width="1.1"/>
<line x1="335.15" y1="258.5" x2="338.35" y2="258.5" stroke="#231f20" stroke-width="1.1"/>
<line x1="335.15" y1="262.5" x2="338.35" y2="262.5" stroke="#231f20" stroke-width="1.1"/>
<polyline points="302.5,208.4 302.5,205.9 341.75,205.9 341.75,208.4" fill="none" stroke="#231f20" stroke-width="1"/>
<polygon points="322.12,199.60 322.62,200.61 323.74,200.77 322.93,201.56 323.12,202.68 322.12,202.15 321.13,202.68 321.32,201.56 320.51,200.77 321.63,200.61" fill="#231f20"/>
<circle cx="361.1" cy="244.4" r="4" fill="#a6052b"/>
<circle cx="361.1" cy="256.9" r="3.6" fill="none" stroke="#2e5597" stroke-width="1.1"/>
<circle cx="361.1" cy="269" r="3.6" fill="#b9dc9f" stroke="#62ae3e" stroke-width="1.2"/>
<text x="368.8" y="247.06" font-size="8.3" stroke="#231f20" stroke-width="0.22" textLength="15" lengthAdjust="spacingAndGlyphs">MIG</text>
<text x="368.8" y="259.36" font-size="8.3" stroke="#231f20" stroke-width="0.22" textLength="37" lengthAdjust="spacingAndGlyphs">EBF1-MIG</text>
<text x="368.8" y="271.16" font-size="8.3" stroke="#231f20" stroke-width="0.22" textLength="37" lengthAdjust="spacingAndGlyphs">PAX5-MIG</text>
<text x="8.5" y="342" font-size="12.5" font-weight="bold" stroke="#231f20" stroke-width="0.45">E</text>
<text x="63.8" y="352.21" font-size="10.2" text-anchor="middle" stroke="#231f20" stroke-width="0.22" font-style="italic" textLength="19.6" lengthAdjust="spacingAndGlyphs">Myc</text>
<text transform="translate(18.4 408.5) rotate(-90)" x="0" y="0" font-size="10.8" text-anchor="middle" textLength="55.3" lengthAdjust="spacingAndGlyphs" stroke="#231f20" stroke-width="0.22">Relative to <tspan font-style="italic">Hprt</tspan></text>
<line x1="33.8" y1="358.6" x2="33.8" y2="458.2" stroke="#231f20" stroke-width="1.1"/>
<line x1="30.8" y1="361.3" x2="33.8" y2="361.3" stroke="#231f20" stroke-width="1.1"/>
<text x="27.6" y="364.26" font-size="8.6" text-anchor="end" stroke="#231f20" stroke-width="0.22">8</text>
<line x1="30.8" y1="385.6" x2="33.8" y2="385.6" stroke="#231f20" stroke-width="1.1"/>
<text x="27.6" y="388.56" font-size="8.6" text-anchor="end" stroke="#231f20" stroke-width="0.22">6</text>
<line x1="30.8" y1="410" x2="33.8" y2="410" stroke="#231f20" stroke-width="1.1"/>
<text x="27.6" y="412.96" font-size="8.6" text-anchor="end" stroke="#231f20" stroke-width="0.22">4</text>
<line x1="30.8" y1="434.1" x2="33.8" y2="434.1" stroke="#231f20" stroke-width="1.1"/>
<text x="27.6" y="437.06" font-size="8.6" text-anchor="end" stroke="#231f20" stroke-width="0.22">2</text>
<line x1="30.8" y1="458.2" x2="33.8" y2="458.2" stroke="#231f20" stroke-width="1.1"/>
<text x="27.6" y="461.16" font-size="8.6" text-anchor="end" stroke="#231f20" stroke-width="0.22">0</text>
<line x1="33.8" y1="458.2" x2="93.1" y2="458.2" stroke="#231f20" stroke-width="1.1"/>
<line x1="43.4" y1="458.2" x2="43.4" y2="460.9" stroke="#231f20" stroke-width="1.1"/>
<line x1="56.7" y1="458.2" x2="56.7" y2="460.9" stroke="#231f20" stroke-width="1.1"/>
<line x1="70.4" y1="458.2" x2="70.4" y2="460.9" stroke="#231f20" stroke-width="1.1"/>
<line x1="84.2" y1="458.2" x2="84.2" y2="460.9" stroke="#231f20" stroke-width="1.1"/>
<text transform="translate(44.4 468.9) rotate(-45)" x="0" y="2.96" font-size="8.6" text-anchor="end" stroke="#231f20" stroke-width="0.22" textLength="30.5" lengthAdjust="spacingAndGlyphs">WT MIG</text>
<text transform="translate(57.7 468.9) rotate(-45)" x="0" y="2.96" font-size="8.6" text-anchor="end" stroke="#231f20" stroke-width="0.22" textLength="14.5" lengthAdjust="spacingAndGlyphs">MIG</text>
<text transform="translate(71.4 468.9) rotate(-45)" x="0" y="2.96" font-size="8.6" text-anchor="end" stroke="#231f20" stroke-width="0.22" textLength="37.5" lengthAdjust="spacingAndGlyphs">EBF1-MIG</text>
<text transform="translate(85.2 468.9) rotate(-45)" x="0" y="2.96" font-size="8.6" text-anchor="end" stroke="#231f20" stroke-width="0.22" textLength="37.5" lengthAdjust="spacingAndGlyphs">PAX5-MIG</text>
<line x1="43.2" y1="410" x2="43.2" y2="425" stroke="#231f20" stroke-width="1"/>
<rect x="40.3" y="407.1" width="5.8" height="5.8" fill="#3d4a5e"/>
<rect x="38" y="413.4" width="5.8" height="5.8" fill="#3d4a5e"/>
<rect x="42.6" y="413.4" width="5.8" height="5.8" fill="#3d4a5e"/>
<rect x="40.3" y="422.1" width="5.8" height="5.8" fill="#3d4a5e"/>
<line x1="38.4" y1="416.5" x2="48" y2="416.5" stroke="#231f20" stroke-width="1.1"/>
<line x1="56.5" y1="404" x2="56.5" y2="418" stroke="#231f20" stroke-width="1"/>
<circle cx="57.6" cy="400.3" r="3.4" fill="#a6052b"/>
<circle cx="54.6" cy="403.4" r="3.4" fill="#a6052b"/>
<circle cx="57.6" cy="417.4" r="3.4" fill="#a6052b"/>
<circle cx="54.6" cy="420.9" r="3.4" fill="#a6052b"/>
<line x1="51.9" y1="411.5" x2="61.1" y2="411.5" stroke="#231f20" stroke-width="1.1"/>
<circle cx="71.9" cy="372.7" r="2.9" fill="none" stroke="#2e5597" stroke-width="1.1"/>
<circle cx="68.1" cy="377" r="2.9" fill="none" stroke="#2e5597" stroke-width="1.1"/>
<circle cx="70.3" cy="406.9" r="2.9" fill="none" stroke="#2e5597" stroke-width="1.1"/>
<circle cx="70.3" cy="412.5" r="2.9" fill="none" stroke="#2e5597" stroke-width="1.1"/>
<line x1="65.7" y1="392.5" x2="74.9" y2="392.5" stroke="#231f20" stroke-width="1.1"/>
<line x1="70.3" y1="372.5" x2="70.3" y2="413.5" stroke="#231f20" stroke-width="1.1"/>
<line x1="67.8" y1="372.5" x2="72.8" y2="372.5" stroke="#231f20" stroke-width="1.1"/>
<line x1="67.8" y1="413.5" x2="72.8" y2="413.5" stroke="#231f20" stroke-width="1.1"/>
<line x1="84" y1="412" x2="84" y2="440" stroke="#231f20" stroke-width="1"/>
<circle cx="84" cy="412.3" r="3" fill="#b9dc9f" stroke="#62ae3e" stroke-width="1"/>
<circle cx="84" cy="419.6" r="3" fill="#b9dc9f" stroke="#62ae3e" stroke-width="1"/>
<circle cx="84" cy="431.9" r="3" fill="#b9dc9f" stroke="#62ae3e" stroke-width="1"/>
<circle cx="84" cy="439.4" r="3" fill="#b9dc9f" stroke="#62ae3e" stroke-width="1"/>
<line x1="79.4" y1="426.5" x2="88.6" y2="426.5" stroke="#231f20" stroke-width="1.1"/>
<polyline points="72.4,366.8 72.4,363.4 86.3,363.4 86.3,366.8" fill="none" stroke="#231f20" stroke-width="1"/>
<polygon points="79.35,358.10 79.85,359.11 80.97,359.27 80.16,360.06 80.35,361.18 79.35,360.65 78.35,361.18 78.54,360.06 77.73,359.27 78.85,359.11" fill="#231f20"/>
<text x="110.5" y="342.1" font-size="12.5" font-weight="bold" stroke="#231f20" stroke-width="0.45">F</text>
<text x="169.6" y="352.85" font-size="10.9" text-anchor="middle" stroke="#231f20" stroke-width="0.22">G1</text>
<text x="208.5" y="352.85" font-size="10.9" text-anchor="middle" stroke="#231f20" stroke-width="0.22">S</text>
<text x="245.7" y="352.85" font-size="10.9" text-anchor="middle" stroke="#231f20" stroke-width="0.22">G2/M</text>
<text transform="translate(116.2 419.4) rotate(-90)" x="0" y="3.51" font-size="10.2" text-anchor="middle" stroke="#231f20" stroke-width="0.22" textLength="89.6" lengthAdjust="spacingAndGlyphs">MYC MFI ratio compared</text>
<text transform="translate(129 419.5) rotate(-90)" x="0" y="3.51" font-size="10.2" text-anchor="middle" stroke="#231f20" stroke-width="0.22" textLength="19.3" lengthAdjust="spacingAndGlyphs">to G0</text>
<line x1="156.3" y1="362.5" x2="156.3" y2="477" stroke="#231f20" stroke-width="1.1"/>
<line x1="153.3" y1="373.8" x2="156.3" y2="373.8" stroke="#231f20" stroke-width="1.1"/>
<text x="150.3" y="376.86" font-size="8.9" text-anchor="end" stroke="#231f20" stroke-width="0.22">2.0</text>
<line x1="153.3" y1="399.6" x2="156.3" y2="399.6" stroke="#231f20" stroke-width="1.1"/>
<text x="150.3" y="402.66" font-size="8.9" text-anchor="end" stroke="#231f20" stroke-width="0.22">1.5</text>
<line x1="153.3" y1="425.4" x2="156.3" y2="425.4" stroke="#231f20" stroke-width="1.1"/>
<text x="150.3" y="428.46" font-size="8.9" text-anchor="end" stroke="#231f20" stroke-width="0.22">1.0</text>
<line x1="153.3" y1="451.2" x2="156.3" y2="451.2" stroke="#231f20" stroke-width="1.1"/>
<text x="150.3" y="454.26" font-size="8.9" text-anchor="end" stroke="#231f20" stroke-width="0.22">0.5</text>
<line x1="153.3" y1="477" x2="156.3" y2="477" stroke="#231f20" stroke-width="1.1"/>
<text x="150.3" y="480.06" font-size="8.9" text-anchor="end" stroke="#231f20" stroke-width="0.22">0.0</text>
<line x1="156.3" y1="477" x2="266.9" y2="477" stroke="#231f20" stroke-width="1.1"/>
<rect x="160.3" y="417" width="11.5" height="60" fill="#a6052b"/>
<line x1="164.45" y1="416" x2="167.65" y2="416" stroke="#231f20" stroke-width="1"/>
<rect x="176.6" y="408.3" width="11.2" height="68.7" fill="#2e4c7e"/>
<line x1="182.2" y1="405" x2="182.2" y2="411.6" stroke="#231f20" stroke-width="1"/>
<line x1="180.6" y1="405" x2="183.8" y2="405" stroke="#231f20" stroke-width="1"/>
<rect x="197.9" y="396.8" width="12" height="80.2" fill="#a6052b"/>
<line x1="203.9" y1="395.8" x2="203.9" y2="397.8" stroke="#231f20" stroke-width="1"/>
<line x1="202.3" y1="395.8" x2="205.5" y2="395.8" stroke="#231f20" stroke-width="1"/>
<rect x="214.4" y="388" width="11.7" height="89" fill="#2e4c7e"/>
<line x1="220.25" y1="384.5" x2="220.25" y2="391.5" stroke="#231f20" stroke-width="1"/>
<line x1="218.65" y1="384.5" x2="221.85" y2="384.5" stroke="#231f20" stroke-width="1"/>
<rect x="235.9" y="370.8" width="11.5" height="106.2" fill="#a6052b"/>
<line x1="241.65" y1="366.3" x2="241.65" y2="375.3" stroke="#231f20" stroke-width="1"/>
<line x1="240.05" y1="366.3" x2="243.25" y2="366.3" stroke="#231f20" stroke-width="1"/>
<rect x="252" y="365" width="11.6" height="112" fill="#2e4c7e"/>
<line x1="257.8" y1="360.2" x2="257.8" y2="369.8" stroke="#231f20" stroke-width="1"/>
<line x1="256.2" y1="360.2" x2="259.4" y2="360.2" stroke="#231f20" stroke-width="1"/>
<polyline points="166.3,383.8 166.3,381.8 181.8,381.8 181.8,383.8" fill="none" stroke="#231f20" stroke-width="1"/>
<polygon points="174.05,375.80 174.55,376.81 175.67,376.97 174.86,377.76 175.05,378.88 174.05,378.35 173.05,378.88 173.24,377.76 172.43,376.97 173.55,376.81" fill="#231f20"/>
<circle cx="161.6" cy="491.2" r="3.8" fill="#a6052b"/>
<text x="168.3" y="494.16" font-size="8.6" stroke="#231f20" stroke-width="0.22" textLength="38" lengthAdjust="spacingAndGlyphs">EBF1-MIG</text>
<circle cx="220.2" cy="491.2" r="3.8" fill="#2e4c7e"/>
<text x="227.1" y="494.16" font-size="8.6" stroke="#231f20" stroke-width="0.22" textLength="38.4" lengthAdjust="spacingAndGlyphs">PAX5-MIG</text>
<text x="284.5" y="341.7" font-size="12.5" font-weight="bold" stroke="#231f20" stroke-width="0.45">G</text>
<text x="319.2" y="338.41" font-size="9.2" stroke="#231f20" stroke-width="0.22" textLength="121.4" lengthAdjust="spacingAndGlyphs">FL Ebf1-/- vs FL Ebf1-/- + PAX5</text>
<text x="321" y="347.86" font-size="5.4" font-weight="bold" textLength="117.5" lengthAdjust="spacingAndGlyphs" stroke="#231f20" stroke-width="0.15">Enrichment plot: HALLMARK_MYC_TARGETS_V1.grp</text>
<line x1="338.8" y1="351.9" x2="338.8" y2="477.4" stroke="#e6e6e6" stroke-width="0.6"/>
<line x1="364.9" y1="351.9" x2="364.9" y2="477.4" stroke="#e6e6e6" stroke-width="0.6"/>
<line x1="390.4" y1="351.9" x2="390.4" y2="477.4" stroke="#e6e6e6" stroke-width="0.6"/>
<line x1="416.3" y1="351.9" x2="416.3" y2="477.4" stroke="#e6e6e6" stroke-width="0.6"/>
<line x1="442.3" y1="351.9" x2="442.3" y2="477.4" stroke="#e6e6e6" stroke-width="0.6"/>
<line x1="312.7" y1="357" x2="446.3" y2="357" stroke="#e6e6e6" stroke-width="0.6"/>
<line x1="312.7" y1="365.5" x2="446.3" y2="365.5" stroke="#e6e6e6" stroke-width="0.6"/>
<line x1="312.7" y1="374.2" x2="446.3" y2="374.2" stroke="#e6e6e6" stroke-width="0.6"/>
<line x1="312.7" y1="382.7" x2="446.3" y2="382.7" stroke="#e6e6e6" stroke-width="0.6"/>
<line x1="312.7" y1="391.2" x2="446.3" y2="391.2" stroke="#e6e6e6" stroke-width="0.6"/>
<line x1="312.7" y1="399.6" x2="446.3" y2="399.6" stroke="#e6e6e6" stroke-width="0.6"/>
<line x1="312.7" y1="408.4" x2="446.3" y2="408.4" stroke="#e6e6e6" stroke-width="0.6"/>
<line x1="312.7" y1="408.4" x2="446.3" y2="408.4" stroke="#c8c8c8" stroke-width="0.9"/>
<line x1="312.7" y1="412.4" x2="446.3" y2="412.4" stroke="#d0d0d0" stroke-width="0.7"/>
<line x1="312.7" y1="437.6" x2="446.3" y2="437.6" stroke="#d8d8d8" stroke-width="0.7"/>
<line x1="312.7" y1="441.2" x2="446.3" y2="441.2" stroke="#e6e6e6" stroke-width="0.6"/>
<line x1="312.7" y1="448.6" x2="446.3" y2="448.6" stroke="#e6e6e6" stroke-width="0.6"/>
<line x1="312.7" y1="456.1" x2="446.3" y2="456.1" stroke="#e6e6e6" stroke-width="0.6"/>
<line x1="312.7" y1="463.6" x2="446.3" y2="463.6" stroke="#e6e6e6" stroke-width="0.6"/>
<line x1="312.7" y1="471.2" x2="446.3" y2="471.2" stroke="#e6e6e6" stroke-width="0.6"/>
<line x1="310.5" y1="357" x2="312.7" y2="357" stroke="#231f20" stroke-width="0.9"/>
<text x="306.4" y="359" font-size="5.8" text-anchor="end" fill="#3a3a3a">0.6</text>
<line x1="310.5" y1="365.5" x2="312.7" y2="365.5" stroke="#231f20" stroke-width="0.9"/>
<text x="306.4" y="367.5" font-size="5.8" text-anchor="end" fill="#3a3a3a">0.5</text>
<line x1="310.5" y1="374.2" x2="312.7" y2="374.2" stroke="#231f20" stroke-width="0.9"/>
<text x="306.4" y="376.2" font-size="5.8" text-anchor="end" fill="#3a3a3a">0.4</text>
<line x1="310.5" y1="382.7" x2="312.7" y2="382.7" stroke="#231f20" stroke-width="0.9"/>
<text x="306.4" y="384.7" font-size="5.8" text-anchor="end" fill="#3a3a3a">0.3</text>
<line x1="310.5" y1="391.2" x2="312.7" y2="391.2" stroke="#231f20" stroke-width="0.9"/>
<text x="306.4" y="393.2" font-size="5.8" text-anchor="end" fill="#3a3a3a">0.2</text>
<line x1="310.5" y1="399.6" x2="312.7" y2="399.6" stroke="#231f20" stroke-width="0.9"/>
<text x="306.4" y="401.6" font-size="5.8" text-anchor="end" fill="#3a3a3a">0.1</text>
<line x1="310.5" y1="408.4" x2="312.7" y2="408.4" stroke="#231f20" stroke-width="0.9"/>
<text x="306.4" y="410.4" font-size="5.8" text-anchor="end" fill="#3a3a3a">0.0</text>
<line x1="310.5" y1="441.2" x2="312.7" y2="441.2" stroke="#231f20" stroke-width="0.9"/>
<text x="306.4" y="443.2" font-size="5.8" text-anchor="end" fill="#3a3a3a">4</text>
<line x1="310.5" y1="448.6" x2="312.7" y2="448.6" stroke="#231f20" stroke-width="0.9"/>
<text x="306.4" y="450.6" font-size="5.8" text-anchor="end" fill="#3a3a3a">2</text>
<line x1="310.5" y1="456.1" x2="312.7" y2="456.1" stroke="#231f20" stroke-width="0.9"/>
<text x="306.4" y="458.1" font-size="5.8" text-anchor="end" fill="#3a3a3a">0</text>
<line x1="310.5" y1="463.6" x2="312.7" y2="463.6" stroke="#231f20" stroke-width="0.9"/>
<text x="306.4" y="465.6" font-size="5.8" text-anchor="end" fill="#3a3a3a">-2</text>
<line x1="310.5" y1="471.2" x2="312.7" y2="471.2" stroke="#231f20" stroke-width="0.9"/>
<text x="306.4" y="473.2" font-size="5.8" text-anchor="end" fill="#3a3a3a">-4</text>
<rect x="313.8" y="412.9" width="1.8" height="18.8" fill="#000" fill-opacity="0.95"/>
<rect x="315.6" y="412.9" width="0.9" height="18.8" fill="#000" fill-opacity="0.15"/>
<rect x="316.5" y="412.9" width="1.2" height="18.8" fill="#000" fill-opacity="0.90"/>
<rect x="317.7" y="412.9" width="0.5" height="18.8" fill="#000" fill-opacity="0.45"/>
<rect x="318.2" y="412.9" width="0.9" height="18.8" fill="#000" fill-opacity="0.85"/>
<rect x="319.1" y="412.9" width="1" height="18.8" fill="#000" fill-opacity="0.20"/>
<rect x="320.1" y="412.9" width="1.4" height="18.8" fill="#000" fill-opacity="0.85"/>
<rect x="321.5" y="412.9" width="0.5" height="18.8" fill="#000" fill-opacity="0.50"/>
<rect x="322" y="412.9" width="1" height="18.8" fill="#000" fill-opacity="0.85"/>
<rect x="323" y="412.9" width="1.4" height="18.8" fill="#000" fill-opacity="0.25"/>
<rect x="324.4" y="412.9" width="1.5" height="18.8" fill="#000" fill-opacity="0.95"/>
<rect x="325.9" y="412.9" width="1.6" height="18.8" fill="#000" fill-opacity="0.75"/>
<rect x="327.5" y="412.9" width="0.6" height="18.8" fill="#000" fill-opacity="0.45"/>
<rect x="328.1" y="412.9" width="1.1" height="18.8" fill="#000" fill-opacity="0.70"/>
<rect x="329.2" y="412.9" width="2.9" height="18.8" fill="#000" fill-opacity="0.50"/>
<rect x="332.1" y="412.9" width="1.4" height="18.8" fill="#000" fill-opacity="0.70"/>
<rect x="333.5" y="412.9" width="0.5" height="18.8" fill="#000" fill-opacity="0.40"/>
<rect x="334" y="412.9" width="1" height="18.8" fill="#000" fill-opacity="0.75"/>
<rect x="335" y="412.9" width="1.8" height="18.8" fill="#000" fill-opacity="0.85"/>
<rect x="336.8" y="412.9" width="0.5" height="18.8" fill="#000" fill-opacity="0.50"/>
<rect x="337.3" y="412.9" width="1.5" height="18.8" fill="#000" fill-opacity="0.85"/>
<rect x="338.8" y="412.9" width="3.9" height="18.8" fill="#000" fill-opacity="0.95"/>
<rect x="344.6" y="412.9" width="1.7" height="18.8" fill="#000" fill-opacity="0.95"/>
<rect x="346.3" y="412.9" width="4.1" height="18.8" fill="#000" fill-opacity="0.50"/>
<rect x="350.4" y="412.9" width="1.4" height="18.8" fill="#000" fill-opacity="0.80"/>
<rect x="351.8" y="412.9" width="1" height="18.8" fill="#000" fill-opacity="0.25"/>
<rect x="391.9" y="412.9" width="1.2" height="18.8" fill="#000" fill-opacity="0.45"/>
<rect x="393.1" y="412.9" width="1.1" height="18.8" fill="#000" fill-opacity="0.70"/>
<rect x="394.2" y="412.9" width="1.8" height="18.8" fill="#000" fill-opacity="0.95"/>
<rect x="397.1" y="412.9" width="2" height="18.8" fill="#000" fill-opacity="0.85"/>
<rect x="399.1" y="412.9" width="1.8" height="18.8" fill="#000" fill-opacity="0.55"/>
<rect x="400.9" y="412.9" width="2" height="18.8" fill="#000" fill-opacity="0.40"/>
<rect x="404" y="412.9" width="2.9" height="18.8" fill="#000" fill-opacity="0.85"/>
<rect x="407.5" y="412.9" width="1.2" height="18.8" fill="#000" fill-opacity="0.35"/>
<rect x="409.2" y="412.9" width="1.4" height="18.8" fill="#000" fill-opacity="0.65"/>
<rect x="410.6" y="412.9" width="0.5" height="18.8" fill="#000" fill-opacity="0.35"/>
<rect x="411.1" y="412.9" width="1.6" height="18.8" fill="#000" fill-opacity="0.60"/>
<rect x="412.7" y="412.9" width="1.7" height="18.8" fill="#000" fill-opacity="0.45"/>
<rect x="417.6" y="412.9" width="0.7" height="18.8" fill="#000" fill-opacity="0.35"/>
<rect x="419.8" y="412.9" width="1" height="18.8" fill="#000" fill-opacity="0.70"/>
<rect x="423" y="412.9" width="1" height="18.8" fill="#000" fill-opacity="0.45"/>
<rect x="424.6" y="412.9" width="1.9" height="18.8" fill="#000" fill-opacity="0.35"/>
<rect x="430" y="412.9" width="1" height="18.8" fill="#000" fill-opacity="0.45"/>
<defs><linearGradient id="gr" x1="0" x2="1" y1="0" y2="0"><stop offset="0" stop-color="#ca3034"/><stop offset="0.5" stop-color="#d04a4a"/><stop offset="1" stop-color="#d67a86"/></linearGradient><linearGradient id="gb" x1="0" x2="1" y1="0" y2="0"><stop offset="0" stop-color="#5a54b4"/><stop offset="0.8" stop-color="#4a46a4"/><stop offset="1" stop-color="#33338c"/></linearGradient></defs>
<rect x="313.6" y="432" width="30.1" height="4.4" fill="url(#gr)"/>
<rect x="343.7" y="432" width="48.2" height="4.4" fill="#e6bcdc"/>
<rect x="391.9" y="432" width="27.7" height="4.4" fill="#c9c7ea"/>
<rect x="419.6" y="432" width="20.2" height="4.4" fill="url(#gb)"/>
<path d="M313.7,456.1 L313.70,449.70 L314.70,450.50 L315.70,451.20 L316.70,451.81 L317.70,452.35 L318.70,452.81 L319.70,453.22 L320.70,453.58 L321.70,453.90 L322.70,454.17 L323.70,454.41 L324.70,454.62 L325.70,454.81 L326.70,454.97 L327.70,455.11 L328.70,455.23 L329.70,455.34 L330.70,455.44 L331.70,455.52 L332.70,455.59 L333.70,455.66 L334.70,455.71 L335.70,455.76 L336.70,455.80 L337.70,455.84 L338.70,455.87 L339,456.1 Z" fill="#bdbdbd"/>
<path d="M392.00,456.10 L392.00,456.60 L405.00,457.20 L418.00,458.00 L428.00,459.20 L433.00,460.80 L436.00,463.00 L438.00,466.00 L439.30,470.00 L440.00,474.20 L440.30,456.10 Z" fill="#bdbdbd"/>
<polyline points="312.7,408.4 313.3,404 314.2,400.4 315.8,398 317,391 318.1,385 320.4,378.8 321.5,377.5 323.5,375 324.6,371 325.8,368 327,366.5 328.8,361.9 330.5,360 332.7,358.5 335.8,356.5 337.5,355.3 339.6,354.5 341.2,354.5 342.7,355 349.6,358.1 358.8,364.7 366.5,369.6 375,375 384.2,382.7 391,387 398.1,390.4 404,392.2 411.9,395 418,398 425.8,401.2 428,401.6 431.9,403.2 440.4,408.4" fill="none" stroke="#62ad3a" stroke-width="1.1" stroke-linejoin="round"/>
<text x="387" y="369.56" font-size="8.9" stroke="#231f20" stroke-width="0.22" textLength="38.8" lengthAdjust="spacingAndGlyphs">NES = 2.1</text>
<text x="387" y="380.06" font-size="8.9" stroke="#231f20" stroke-width="0.22" textLength="53.4" lengthAdjust="spacingAndGlyphs">FDR &lt; 0.0001</text>
<text x="314.5" y="440.31" font-size="3.8" fill="#d0303c" textLength="41.3" lengthAdjust="spacingAndGlyphs">'EKO' (positively correlated)</text>
<text x="315.8" y="448.83" font-size="8.8" stroke="#bf1e3c" stroke-width="0.22" fill="#bf1e3c" textLength="38.2" lengthAdjust="spacingAndGlyphs">FL Ebf1-/-</text>
<text x="388.7" y="448.83" font-size="8.8" stroke="#3a5a9c" stroke-width="0.22" fill="#3a5a9c" textLength="38" lengthAdjust="spacingAndGlyphs">FL Ebf1-/-</text>
<text x="391.1" y="459.18" font-size="7.5" text-anchor="middle" stroke="#3a5a9c" stroke-width="0.22" fill="#3a5a9c">+</text>
<text x="388.7" y="467.8" font-size="9.6" stroke="#5c2c78" stroke-width="0.22" fill="#5c2c78" textLength="20.2" lengthAdjust="spacingAndGlyphs">PAX5</text>
<text x="339.2" y="458.74" font-size="4.2" textLength="22.1" lengthAdjust="spacingAndGlyphs">Zero cross at 7794</text>
<text x="376" y="474.91" font-size="3.8" fill="#3050a8" textLength="53.7" lengthAdjust="spacingAndGlyphs">'EKO_Pax5' (negatively correlated)</text>
<rect x="312.7" y="351.9" width="133.6" height="125.5" fill="none" stroke="#1a1a1a" stroke-width="1.3"/>
<line x1="312.6" y1="477.4" x2="312.6" y2="479.6" stroke="#231f20" stroke-width="0.9"/>
<text x="312.6" y="488.1" font-size="5.8" text-anchor="middle" fill="#3a3a3a">0</text>
<line x1="338.6" y1="477.4" x2="338.6" y2="479.6" stroke="#231f20" stroke-width="0.9"/>
<text x="338.6" y="488.1" font-size="5.8" text-anchor="middle" fill="#3a3a3a">5,000</text>
<line x1="364.7" y1="477.4" x2="364.7" y2="479.6" stroke="#231f20" stroke-width="0.9"/>
<text x="364.7" y="488.1" font-size="5.8" text-anchor="middle" fill="#3a3a3a">10,000</text>
<line x1="390.4" y1="477.4" x2="390.4" y2="479.6" stroke="#231f20" stroke-width="0.9"/>
<text x="390.4" y="488.1" font-size="5.8" text-anchor="middle" fill="#3a3a3a">15,000</text>
<line x1="416.3" y1="477.4" x2="416.3" y2="479.6" stroke="#231f20" stroke-width="0.9"/>
<text x="416.3" y="488.1" font-size="5.8" text-anchor="middle" fill="#3a3a3a">20,000</text>
<line x1="442.3" y1="477.4" x2="442.3" y2="479.6" stroke="#231f20" stroke-width="0.9"/>
<text x="442.3" y="488.1" font-size="5.8" text-anchor="middle" fill="#3a3a3a">25,000</text>
<text x="379.6" y="498.68" font-size="7.8" text-anchor="middle" fill="#333" textLength="58.9" lengthAdjust="spacingAndGlyphs" stroke="#333" stroke-width="0.08">Rank in  ordered dataset</text>
<text transform="translate(292.6 382.3) rotate(-90)" x="0" y="2" font-size="5.8" text-anchor="middle" fill="#333" textLength="54.5" lengthAdjust="spacingAndGlyphs">Enrichment score (ES)</text>
<text transform="translate(288 456.2) rotate(-90)" x="0" y="2" font-size="5.8" text-anchor="middle" fill="#333" textLength="42.5" lengthAdjust="spacingAndGlyphs">Ranked list metric</text>
<text transform="translate(294.8 455.4) rotate(-90)" x="0" y="2" font-size="5.8" text-anchor="middle" fill="#333" textLength="36.8" lengthAdjust="spacingAndGlyphs">(signal2noise)</text>
<line x1="315.6" y1="508" x2="319.9" y2="508" stroke="#62ad3a" stroke-width="1"/>
<text x="322" y="509.93" font-size="5.6" fill="#444" textLength="38.6" lengthAdjust="spacingAndGlyphs">Enrichment profile</text>
<line x1="364.4" y1="508" x2="368.3" y2="508" stroke="#555" stroke-width="0.8"/>
<text x="371.8" y="509.93" font-size="5.6" fill="#444" textLength="7.8" lengthAdjust="spacingAndGlyphs">Hits</text>
<line x1="386.9" y1="508" x2="396.4" y2="508" stroke="#d0d0d0" stroke-width="0.8"/>
<text x="398.2" y="509.93" font-size="5.6" fill="#444" textLength="45.8" lengthAdjust="spacingAndGlyphs">Ranking metric scores</text>
<text x="8.8" y="542.9" font-size="12.5" font-weight="bold" stroke="#231f20" stroke-width="0.45">H</text>
<text transform="translate(12.9 617) rotate(-90)" x="0" y="3.58" font-size="10.4" text-anchor="middle" stroke="#231f20" stroke-width="0.22" textLength="73.5" lengthAdjust="spacingAndGlyphs">Normalized to mode</text>
<line x1="39.1" y1="576.9" x2="43.3" y2="576.9" stroke="#231f20" stroke-width="1"/>
<text x="37.6" y="579.86" font-size="8.6" text-anchor="end" stroke="#231f20" stroke-width="0.22">100</text>
<line x1="39.1" y1="593.5" x2="43.3" y2="593.5" stroke="#231f20" stroke-width="1"/>
<text x="37.6" y="596.46" font-size="8.6" text-anchor="end" stroke="#231f20" stroke-width="0.22">80</text>
<line x1="39.1" y1="610.2" x2="43.3" y2="610.2" stroke="#231f20" stroke-width="1"/>
<text x="37.6" y="613.16" font-size="8.6" text-anchor="end" stroke="#231f20" stroke-width="0.22">60</text>
<line x1="39.1" y1="626.8" x2="43.3" y2="626.8" stroke="#231f20" stroke-width="1"/>
<text x="37.6" y="629.76" font-size="8.6" text-anchor="end" stroke="#231f20" stroke-width="0.22">40</text>
<line x1="39.1" y1="643.4" x2="43.3" y2="643.4" stroke="#231f20" stroke-width="1"/>
<text x="37.6" y="646.36" font-size="8.6" text-anchor="end" stroke="#231f20" stroke-width="0.22">20</text>
<line x1="39.1" y1="659.8" x2="43.3" y2="659.8" stroke="#231f20" stroke-width="1"/>
<text x="37.6" y="662.76" font-size="8.6" text-anchor="end" stroke="#231f20" stroke-width="0.22">0</text>
<line x1="41.1" y1="659.8" x2="43.3" y2="659.8" stroke="#231f20" stroke-width="0.7"/>
<line x1="41.1" y1="656.48" x2="43.3" y2="656.48" stroke="#231f20" stroke-width="0.7"/>
<line x1="41.1" y1="653.17" x2="43.3" y2="653.17" stroke="#231f20" stroke-width="0.7"/>
<line x1="41.1" y1="649.85" x2="43.3" y2="649.85" stroke="#231f20" stroke-width="0.7"/>
<line x1="41.1" y1="646.54" x2="43.3" y2="646.54" stroke="#231f20" stroke-width="0.7"/>
<line x1="41.1" y1="643.22" x2="43.3" y2="643.22" stroke="#231f20" stroke-width="0.7"/>
<line x1="41.1" y1="639.9" x2="43.3" y2="639.9" stroke="#231f20" stroke-width="0.7"/>
<line x1="41.1" y1="636.59" x2="43.3" y2="636.59" stroke="#231f20" stroke-width="0.7"/>
<line x1="41.1" y1="633.27" x2="43.3" y2="633.27" stroke="#231f20" stroke-width="0.7"/>
<line x1="41.1" y1="629.96" x2="43.3" y2="629.96" stroke="#231f20" stroke-width="0.7"/>
<line x1="41.1" y1="626.64" x2="43.3" y2="626.64" stroke="#231f20" stroke-width="0.7"/>
<line x1="41.1" y1="623.32" x2="43.3" y2="623.32" stroke="#231f20" stroke-width="0.7"/>
<line x1="41.1" y1="620.01" x2="43.3" y2="620.01" stroke="#231f20" stroke-width="0.7"/>
<line x1="41.1" y1="616.69" x2="43.3" y2="616.69" stroke="#231f20" stroke-width="0.7"/>
<line x1="41.1" y1="613.38" x2="43.3" y2="613.38" stroke="#231f20" stroke-width="0.7"/>
<line x1="41.1" y1="610.06" x2="43.3" y2="610.06" stroke="#231f20" stroke-width="0.7"/>
<line x1="41.1" y1="606.74" x2="43.3" y2="606.74" stroke="#231f20" stroke-width="0.7"/>
<line x1="41.1" y1="603.43" x2="43.3" y2="603.43" stroke="#231f20" stroke-width="0.7"/>
<line x1="41.1" y1="600.11" x2="43.3" y2="600.11" stroke="#231f20" stroke-width="0.7"/>
<line x1="41.1" y1="596.8" x2="43.3" y2="596.8" stroke="#231f20" stroke-width="0.7"/>
<line x1="41.1" y1="593.48" x2="43.3" y2="593.48" stroke="#231f20" stroke-width="0.7"/>
<line x1="41.1" y1="590.16" x2="43.3" y2="590.16" stroke="#231f20" stroke-width="0.7"/>
<line x1="41.1" y1="586.85" x2="43.3" y2="586.85" stroke="#231f20" stroke-width="0.7"/>
<line x1="41.1" y1="583.53" x2="43.3" y2="583.53" stroke="#231f20" stroke-width="0.7"/>
<line x1="41.1" y1="580.22" x2="43.3" y2="580.22" stroke="#231f20" stroke-width="0.7"/>
<line x1="41.1" y1="576.9" x2="43.3" y2="576.9" stroke="#231f20" stroke-width="0.7"/>
<line x1="51.3" y1="659.8" x2="51.3" y2="663" stroke="#231f20" stroke-width="1"/>
<line x1="65" y1="659.8" x2="65" y2="663" stroke="#231f20" stroke-width="1"/>
<line x1="79.5" y1="659.8" x2="79.5" y2="663" stroke="#231f20" stroke-width="1"/>
<line x1="93.7" y1="659.8" x2="93.7" y2="663" stroke="#231f20" stroke-width="1"/>
<line x1="107.9" y1="659.8" x2="107.9" y2="663" stroke="#231f20" stroke-width="1"/>
<line x1="122.3" y1="659.8" x2="122.3" y2="663" stroke="#231f20" stroke-width="1"/>
<line x1="69.36" y1="659.8" x2="69.36" y2="661.6" stroke="#231f20" stroke-width="0.6"/>
<line x1="71.92" y1="659.8" x2="71.92" y2="661.6" stroke="#231f20" stroke-width="0.6"/>
<line x1="73.73" y1="659.8" x2="73.73" y2="661.6" stroke="#231f20" stroke-width="0.6"/>
<line x1="75.14" y1="659.8" x2="75.14" y2="661.6" stroke="#231f20" stroke-width="0.6"/>
<line x1="76.28" y1="659.8" x2="76.28" y2="661.6" stroke="#231f20" stroke-width="0.6"/>
<line x1="77.25" y1="659.8" x2="77.25" y2="661.6" stroke="#231f20" stroke-width="0.6"/>
<line x1="78.09" y1="659.8" x2="78.09" y2="661.6" stroke="#231f20" stroke-width="0.6"/>
<line x1="78.84" y1="659.8" x2="78.84" y2="661.6" stroke="#231f20" stroke-width="0.6"/>
<line x1="83.77" y1="659.8" x2="83.77" y2="661.6" stroke="#231f20" stroke-width="0.6"/>
<line x1="86.28" y1="659.8" x2="86.28" y2="661.6" stroke="#231f20" stroke-width="0.6"/>
<line x1="88.05" y1="659.8" x2="88.05" y2="661.6" stroke="#231f20" stroke-width="0.6"/>
<line x1="89.43" y1="659.8" x2="89.43" y2="661.6" stroke="#231f20" stroke-width="0.6"/>
<line x1="90.55" y1="659.8" x2="90.55" y2="661.6" stroke="#231f20" stroke-width="0.6"/>
<line x1="91.5" y1="659.8" x2="91.5" y2="661.6" stroke="#231f20" stroke-width="0.6"/>
<line x1="92.32" y1="659.8" x2="92.32" y2="661.6" stroke="#231f20" stroke-width="0.6"/>
<line x1="93.05" y1="659.8" x2="93.05" y2="661.6" stroke="#231f20" stroke-width="0.6"/>
<line x1="97.97" y1="659.8" x2="97.97" y2="661.6" stroke="#231f20" stroke-width="0.6"/>
<line x1="100.48" y1="659.8" x2="100.48" y2="661.6" stroke="#231f20" stroke-width="0.6"/>
<line x1="102.25" y1="659.8" x2="102.25" y2="661.6" stroke="#231f20" stroke-width="0.6"/>
<line x1="103.63" y1="659.8" x2="103.63" y2="661.6" stroke="#231f20" stroke-width="0.6"/>
<line x1="104.75" y1="659.8" x2="104.75" y2="661.6" stroke="#231f20" stroke-width="0.6"/>
<line x1="105.7" y1="659.8" x2="105.7" y2="661.6" stroke="#231f20" stroke-width="0.6"/>
<line x1="106.52" y1="659.8" x2="106.52" y2="661.6" stroke="#231f20" stroke-width="0.6"/>
<line x1="107.25" y1="659.8" x2="107.25" y2="661.6" stroke="#231f20" stroke-width="0.6"/>
<line x1="112.23" y1="659.8" x2="112.23" y2="661.6" stroke="#231f20" stroke-width="0.6"/>
<line x1="114.77" y1="659.8" x2="114.77" y2="661.6" stroke="#231f20" stroke-width="0.6"/>
<line x1="116.57" y1="659.8" x2="116.57" y2="661.6" stroke="#231f20" stroke-width="0.6"/>
<line x1="117.97" y1="659.8" x2="117.97" y2="661.6" stroke="#231f20" stroke-width="0.6"/>
<line x1="119.11" y1="659.8" x2="119.11" y2="661.6" stroke="#231f20" stroke-width="0.6"/>
<line x1="120.07" y1="659.8" x2="120.07" y2="661.6" stroke="#231f20" stroke-width="0.6"/>
<line x1="120.9" y1="659.8" x2="120.9" y2="661.6" stroke="#231f20" stroke-width="0.6"/>
<line x1="121.64" y1="659.8" x2="121.64" y2="661.6" stroke="#231f20" stroke-width="0.6"/>
<line x1="54.04" y1="659.8" x2="54.04" y2="661.4" stroke="#231f20" stroke-width="0.6"/>
<line x1="48.56" y1="659.8" x2="48.56" y2="661.4" stroke="#231f20" stroke-width="0.6"/>
<line x1="56.78" y1="659.8" x2="56.78" y2="661.4" stroke="#231f20" stroke-width="0.6"/>
<line x1="45.82" y1="659.8" x2="45.82" y2="661.4" stroke="#231f20" stroke-width="0.6"/>
<line x1="59.52" y1="659.8" x2="59.52" y2="661.4" stroke="#231f20" stroke-width="0.6"/>
<line x1="43.08" y1="659.8" x2="43.08" y2="661.4" stroke="#231f20" stroke-width="0.6"/>
<line x1="62.26" y1="659.8" x2="62.26" y2="661.4" stroke="#231f20" stroke-width="0.6"/>
<line x1="40.34" y1="659.8" x2="40.34" y2="661.4" stroke="#231f20" stroke-width="0.6"/>
<text x="51.3" y="673.26" font-size="8.6" text-anchor="middle" stroke="#231f20" stroke-width="0.22">0</text>
<text x="66.00" y="673.30" font-size="8.6" text-anchor="middle">10<tspan font-size="6.2" dy="-3.2">1</tspan></text>
<text x="80.50" y="673.30" font-size="8.6" text-anchor="middle">10<tspan font-size="6.2" dy="-3.2">2</tspan></text>
<text x="94.70" y="673.30" font-size="8.6" text-anchor="middle">10<tspan font-size="6.2" dy="-3.2">3</tspan></text>
<text x="108.90" y="673.30" font-size="8.6" text-anchor="middle">10<tspan font-size="6.2" dy="-3.2">4</tspan></text>
<text x="123.30" y="673.30" font-size="8.6" text-anchor="middle">10<tspan font-size="6.2" dy="-3.2">5</tspan></text>
<text x="59.6" y="688.14" font-size="10" text-anchor="middle" stroke="#231f20" stroke-width="0.22" textLength="20.5" lengthAdjust="spacingAndGlyphs">CD19</text>
<path d="M43.60,659.80 L44.00,657.50 L47.00,658.20 L50.00,658.50 L53.00,657.80 L55.50,656.50 L57.50,653.00 L59.00,651.80 L60.60,648.50 L62.00,647.60 L63.50,646.50 L65.50,643.50 L67.00,637.00 L68.50,629.00 L69.80,618.00 L70.80,610.50 L71.80,607.50 L73.00,601.00 L74.30,595.00 L75.60,590.50 L76.60,592.00 L77.40,600.00 L78.00,615.00 L78.80,632.00 L80.20,645.00 L82.50,652.50 L85.00,656.50 L88.00,658.50 L90.50,659.80 Z" fill="#e2d0a2" fill-opacity="1" stroke="none"/>
<path d="M43.60,659.80 L43.80,655.80 L46.00,656.60 L48.10,656.40 L50.00,657.40 L53.40,657.80 L55.90,656.20 L58.40,654.10 L60.90,652.40 L63.80,646.90 L65.50,644.40 L66.80,636.90 L68.00,631.90 L69.30,625.10 L70.50,616.80 L71.40,608.40 L72.20,603.40 L73.00,600.00 L73.80,597.00 L75.00,590.00 L76.00,586.30 L76.60,585.80 L77.30,587.50 L78.00,595.00 L78.50,616.80 L79.30,631.90 L80.60,641.90 L82.30,649.50 L84.40,655.30 L86.90,657.00 L89.40,658.70 L90.50,659.80 Z" fill="#ccd4a5" fill-opacity="1" stroke="none"/>
<path d="M90.80,659.80 L92.00,657.00 L93.50,647.00 L95.00,625.00 L96.20,601.00 L97.20,590.90 L98.20,600.00 L99.20,615.40 L100.50,638.00 L101.80,653.00 L103.30,659.80 Z" fill="#c4daf3" fill-opacity="1" stroke="none"/>
<path d="M95.00,659.80 L96.80,652.00 L98.20,630.00 L99.40,600.00 L100.20,585.50 L101.00,596.00 L102.20,622.00 L103.50,645.00 L104.60,657.00 L105.30,659.80 Z" fill="#e0a8b8" fill-opacity="0.55" stroke="none"/>
<path d="M43.60,659.80 L44.00,657.50 L47.00,658.20 L50.00,658.50 L53.00,657.80 L55.50,656.50 L57.50,653.00 L59.00,651.80 L60.60,648.50 L62.00,647.60 L63.50,646.50 L65.50,643.50 L67.00,637.00 L68.50,629.00 L69.80,618.00 L70.80,610.50 L71.80,607.50 L73.00,601.00 L74.30,595.00 L75.60,590.50 L76.60,592.00 L77.40,600.00 L78.00,615.00 L78.80,632.00 L80.20,645.00 L82.50,652.50 L85.00,656.50 L88.00,658.50 L90.50,659.80" fill="none" stroke="#eea04a" stroke-width="0.8" stroke-linejoin="round"/>
<path d="M43.60,659.80 L43.80,655.80 L46.00,656.60 L48.10,656.40 L50.00,657.40 L53.40,657.80 L55.90,656.20 L58.40,654.10 L60.90,652.40 L63.80,646.90 L65.50,644.40 L66.80,636.90 L68.00,631.90 L69.30,625.10 L70.50,616.80 L71.40,608.40 L72.20,603.40 L73.00,600.00 L73.80,597.00 L75.00,590.00 L76.00,586.30 L76.60,585.80 L77.30,587.50 L78.00,595.00 L78.50,616.80 L79.30,631.90 L80.60,641.90 L82.30,649.50 L84.40,655.30 L86.90,657.00 L89.40,658.70 L90.50,659.80" fill="none" stroke="#76b448" stroke-width="0.9" stroke-linejoin="round"/>
<path d="M90.80,659.80 L92.00,657.00 L93.50,647.00 L95.00,625.00 L96.20,601.00 L97.20,590.90 L98.20,600.00 L99.20,615.40 L100.50,638.00 L101.80,653.00 L103.30,659.80" fill="none" stroke="#7eb0e6" stroke-width="0.9" stroke-linejoin="round"/>
<path d="M95.00,659.80 L96.80,652.00 L98.20,630.00 L99.40,600.00 L100.20,585.50" fill="none" stroke="#d890ac" stroke-width="0.7" stroke-linejoin="round"/>
<path d="M100.20,585.50 L101.00,596.00 L102.20,622.00 L103.50,645.00 L104.60,657.00 L105.30,659.80" fill="none" stroke="#c8405e" stroke-width="1.0" stroke-linejoin="round"/>
<polyline points="43.3,659.8 43.3,572.9 128.4,572.9 128.4,659.8 43.3,659.8" fill="none" stroke="#111" stroke-width="1.1"/>
<circle cx="134" cy="577.5" r="2.3" fill="#a6052b"/>
<circle cx="134" cy="589.6" r="2.3" fill="#6aa8e4"/>
<circle cx="134" cy="601.9" r="2.3" fill="#5aa83a"/>
<circle cx="134" cy="623.5" r="2.3" fill="#e08a20"/>
<text x="140" y="580.19" font-size="8.4" stroke="#333" stroke-width="0.22" fill="#333" textLength="18.1" lengthAdjust="spacingAndGlyphs">EBF1</text>
<text x="140" y="592.29" font-size="8.4" stroke="#333" stroke-width="0.22" fill="#333" textLength="31.3" lengthAdjust="spacingAndGlyphs">EBF1-ER</text>
<text x="140" y="603.99" font-size="8.4" stroke="#333" stroke-width="0.22" fill="#333" textLength="18.1" lengthAdjust="spacingAndGlyphs">EBF1</text>
<text x="140" y="613.49" font-size="8.4" stroke="#333" stroke-width="0.22" fill="#333" textLength="32.8" lengthAdjust="spacingAndGlyphs">PAX5 KD</text>
<text x="140" y="626.09" font-size="8.4" stroke="#333" stroke-width="0.22" fill="#333" textLength="31.3" lengthAdjust="spacingAndGlyphs">EBF1-ER</text>
<text x="140" y="635.49" font-size="8.4" stroke="#333" stroke-width="0.22" fill="#333" textLength="32.8" lengthAdjust="spacingAndGlyphs">PAX5 KD</text>
<text x="189.9" y="542.9" font-size="12.5" font-weight="bold" stroke="#231f20" stroke-width="0.45">I</text>
<text transform="translate(196 609.2) rotate(-90)" x="0" y="3.51" font-size="10.2" text-anchor="middle" stroke="#231f20" stroke-width="0.22" textLength="71.4" lengthAdjust="spacingAndGlyphs">MFI (PAX5) of GFP+</text>
<text transform="translate(208.9 609.2) rotate(-90)" x="0" y="3.51" font-size="10.2" text-anchor="middle" stroke="#231f20" stroke-width="0.22" textLength="45.4" lengthAdjust="spacingAndGlyphs">gRNA+ cells</text>
<text x="262.5" y="551.24" font-size="10" text-anchor="middle" stroke="#231f20" stroke-width="0.22" textLength="23.4" lengthAdjust="spacingAndGlyphs">EBF1</text>
<text x="305.2" y="538.94" font-size="10" text-anchor="middle" stroke="#231f20" stroke-width="0.22" textLength="23.4" lengthAdjust="spacingAndGlyphs">EBF1</text>
<text x="305.2" y="551.24" font-size="10" text-anchor="middle" stroke="#231f20" stroke-width="0.22" textLength="15.8" lengthAdjust="spacingAndGlyphs">-ER</text>
<line x1="243.2" y1="557.4" x2="243.2" y2="659.6" stroke="#231f20" stroke-width="1.1"/>
<line x1="240.2" y1="559.9" x2="243.2" y2="559.9" stroke="#231f20" stroke-width="1.1"/>
<text x="236.2" y="562.86" font-size="8.6" text-anchor="end" stroke="#231f20" stroke-width="0.22">3000</text>
<line x1="240.2" y1="593.1" x2="243.2" y2="593.1" stroke="#231f20" stroke-width="1.1"/>
<text x="236.2" y="596.06" font-size="8.6" text-anchor="end" stroke="#231f20" stroke-width="0.22">2000</text>
<line x1="240.2" y1="626.4" x2="243.2" y2="626.4" stroke="#231f20" stroke-width="1.1"/>
<text x="236.2" y="629.36" font-size="8.6" text-anchor="end" stroke="#231f20" stroke-width="0.22">1000</text>
<line x1="240.2" y1="659.6" x2="243.2" y2="659.6" stroke="#231f20" stroke-width="1.1"/>
<text x="236.2" y="662.56" font-size="8.6" text-anchor="end" stroke="#231f20" stroke-width="0.22">0</text>
<line x1="243.2" y1="659.6" x2="313.1" y2="659.6" stroke="#231f20" stroke-width="1.1"/>
<line x1="251.2" y1="659.6" x2="251.2" y2="662" stroke="#231f20" stroke-width="1.1"/>
<line x1="267.5" y1="659.6" x2="267.5" y2="662" stroke="#231f20" stroke-width="1.1"/>
<line x1="289.2" y1="659.6" x2="289.2" y2="662" stroke="#231f20" stroke-width="1.1"/>
<line x1="305.6" y1="659.6" x2="305.6" y2="662" stroke="#231f20" stroke-width="1.1"/>
<line x1="278.3" y1="558.8" x2="278.3" y2="658.5" stroke="#231f20" stroke-width="1" stroke-dasharray="0.9 1.2"/>
<text transform="translate(252.2 670.2) rotate(-45)" x="0" y="2.96" font-size="8.6" text-anchor="end" stroke="#231f20" stroke-width="0.22" textLength="18.5" lengthAdjust="spacingAndGlyphs">Cas9</text>
<text transform="translate(268.5 670.2) rotate(-45)" x="0" y="2.96" font-size="8.6" text-anchor="end" stroke="#231f20" stroke-width="0.22" textLength="46.5" lengthAdjust="spacingAndGlyphs">Cas9 gPAX5</text>
<text transform="translate(290.2 670.2) rotate(-45)" x="0" y="2.96" font-size="8.6" text-anchor="end" stroke="#231f20" stroke-width="0.22" textLength="18.5" lengthAdjust="spacingAndGlyphs">Cas9</text>
<text transform="translate(306.6 670.2) rotate(-45)" x="0" y="2.96" font-size="8.6" text-anchor="end" stroke="#231f20" stroke-width="0.22" textLength="46.5" lengthAdjust="spacingAndGlyphs">Cas9 gPAX5</text>
<circle cx="250.8" cy="600.8" r="3.2" fill="#a6052b"/>
<circle cx="253.8" cy="603.5" r="3.2" fill="#a6052b"/>
<circle cx="249.4" cy="605.8" r="3.2" fill="#a6052b"/>
<circle cx="252.6" cy="602" r="3.2" fill="#a6052b"/>
<circle cx="251.2" cy="604.5" r="3.2" fill="#a6052b"/>
<circle cx="286.7" cy="574.6" r="3.2" fill="#a6052b"/>
<circle cx="289.6" cy="576.2" r="3.2" fill="#a6052b"/>
<circle cx="292.3" cy="580.3" r="3.2" fill="#a6052b"/>
<circle cx="286.7" cy="585.2" r="3.2" fill="#a6052b"/>
<circle cx="288.5" cy="579.5" r="3.2" fill="#a6052b"/>
<line x1="283.6" y1="579.6" x2="288" y2="579.6" stroke="#231f20" stroke-width="1"/>
<circle cx="264.6" cy="633.1" r="3.2" fill="#2e4c7e"/>
<circle cx="267.5" cy="628.8" r="3.2" fill="#2e4c7e"/>
<circle cx="270.8" cy="629.2" r="3.2" fill="#2e4c7e"/>
<circle cx="266.2" cy="631.7" r="3.2" fill="#2e4c7e"/>
<circle cx="268.8" cy="631.5" r="3.2" fill="#2e4c7e"/>
<circle cx="302.7" cy="629.2" r="3.2" fill="#2e4c7e"/>
<circle cx="307.9" cy="622.1" r="3.2" fill="#2e4c7e"/>
<circle cx="306" cy="625" r="3.2" fill="#2e4c7e"/>
<circle cx="308.5" cy="628.8" r="3.2" fill="#2e4c7e"/>
<circle cx="304" cy="627" r="3.2" fill="#2e4c7e"/>
<polyline points="251.5,593.5 251.5,590.7 267.9,590.7 267.9,593.5" fill="none" stroke="#231f20" stroke-width="1"/>
<polygon points="254.00,583.70 254.50,584.71 255.62,584.87 254.81,585.66 255.00,586.78 254.00,586.25 253.00,586.78 253.19,585.66 252.38,584.87 253.50,584.71" fill="#231f20"/>
<polygon points="257.80,583.70 258.30,584.71 259.42,584.87 258.61,585.66 258.80,586.78 257.80,586.25 256.80,586.78 256.99,585.66 256.18,584.87 257.30,584.71" fill="#231f20"/>
<polygon points="261.60,583.70 262.10,584.71 263.22,584.87 262.41,585.66 262.60,586.78 261.60,586.25 260.60,586.78 260.79,585.66 259.98,584.87 261.10,584.71" fill="#231f20"/>
<polygon points="265.40,583.70 265.90,584.71 267.02,584.87 266.21,585.66 266.40,586.78 265.40,586.25 264.40,586.78 264.59,585.66 263.78,584.87 264.90,584.71" fill="#231f20"/>
<polyline points="291.2,568 291.2,565.2 307.3,565.2 307.3,568" fill="none" stroke="#231f20" stroke-width="1"/>
<polygon points="293.55,558.30 294.05,559.31 295.17,559.47 294.36,560.26 294.55,561.38 293.55,560.85 292.55,561.38 292.74,560.26 291.93,559.47 293.05,559.31" fill="#231f20"/>
<polygon points="297.35,558.30 297.85,559.31 298.97,559.47 298.16,560.26 298.35,561.38 297.35,560.85 296.35,561.38 296.54,560.26 295.73,559.47 296.85,559.31" fill="#231f20"/>
<polygon points="301.15,558.30 301.65,559.31 302.77,559.47 301.96,560.26 302.15,561.38 301.15,560.85 300.15,561.38 300.34,560.26 299.53,559.47 300.65,559.31" fill="#231f20"/>
<polygon points="304.95,558.30 305.45,559.31 306.57,559.47 305.76,560.26 305.95,561.38 304.95,560.85 303.95,561.38 304.14,560.26 303.33,559.47 304.45,559.31" fill="#231f20"/>
<text x="334.4" y="542.9" font-size="12.5" font-weight="bold" stroke="#231f20" stroke-width="0.45">J</text>
<circle cx="395.5" cy="533.6" r="3.7" fill="#a6052b"/>
<text x="402.5" y="536.56" font-size="8.6" stroke="#231f20" stroke-width="0.22" textLength="30.5" lengthAdjust="spacingAndGlyphs">+ 4-OHT</text>
<circle cx="447.3" cy="533.3" r="3.2" fill="none" stroke="#2e5597" stroke-width="1.1"/>
<text x="454.2" y="536.36" font-size="8.6" stroke="#231f20" stroke-width="0.22" textLength="28.9" lengthAdjust="spacingAndGlyphs">- 4-OHT</text>
<text transform="translate(339.6 610.4) rotate(-90)" x="0" y="3.51" font-size="10.2" text-anchor="middle" stroke="#231f20" stroke-width="0.22" textLength="57" lengthAdjust="spacingAndGlyphs">Number of cells</text>
<line x1="389.6" y1="560.5" x2="389.6" y2="660.3" stroke="#231f20" stroke-width="1.1"/>
<line x1="386.6" y1="564" x2="389.6" y2="564" stroke="#231f20" stroke-width="1.1"/>
<text x="383.8" y="566.96" font-size="8.6" text-anchor="end" stroke="#231f20" stroke-width="0.22">1000000</text>
<line x1="386.6" y1="596.1" x2="389.6" y2="596.1" stroke="#231f20" stroke-width="1.1"/>
<text x="383.8" y="599.06" font-size="8.6" text-anchor="end" stroke="#231f20" stroke-width="0.22">100000</text>
<line x1="386.6" y1="628.2" x2="389.6" y2="628.2" stroke="#231f20" stroke-width="1.1"/>
<text x="383.8" y="631.16" font-size="8.6" text-anchor="end" stroke="#231f20" stroke-width="0.22">10000</text>
<line x1="386.6" y1="660.3" x2="389.6" y2="660.3" stroke="#231f20" stroke-width="1.1"/>
<text x="383.8" y="663.26" font-size="8.6" text-anchor="end" stroke="#231f20" stroke-width="0.22">1000</text>
<line x1="387.6" y1="650.64" x2="389.6" y2="650.64" stroke="#231f20" stroke-width="0.8"/>
<line x1="387.6" y1="644.98" x2="389.6" y2="644.98" stroke="#231f20" stroke-width="0.8"/>
<line x1="387.6" y1="640.97" x2="389.6" y2="640.97" stroke="#231f20" stroke-width="0.8"/>
<line x1="387.6" y1="637.86" x2="389.6" y2="637.86" stroke="#231f20" stroke-width="0.8"/>
<line x1="387.6" y1="635.32" x2="389.6" y2="635.32" stroke="#231f20" stroke-width="0.8"/>
<line x1="387.6" y1="633.17" x2="389.6" y2="633.17" stroke="#231f20" stroke-width="0.8"/>
<line x1="387.6" y1="631.31" x2="389.6" y2="631.31" stroke="#231f20" stroke-width="0.8"/>
<line x1="387.6" y1="629.67" x2="389.6" y2="629.67" stroke="#231f20" stroke-width="0.8"/>
<line x1="387.6" y1="618.54" x2="389.6" y2="618.54" stroke="#231f20" stroke-width="0.8"/>
<line x1="387.6" y1="612.88" x2="389.6" y2="612.88" stroke="#231f20" stroke-width="0.8"/>
<line x1="387.6" y1="608.87" x2="389.6" y2="608.87" stroke="#231f20" stroke-width="0.8"/>
<line x1="387.6" y1="605.76" x2="389.6" y2="605.76" stroke="#231f20" stroke-width="0.8"/>
<line x1="387.6" y1="603.22" x2="389.6" y2="603.22" stroke="#231f20" stroke-width="0.8"/>
<line x1="387.6" y1="601.07" x2="389.6" y2="601.07" stroke="#231f20" stroke-width="0.8"/>
<line x1="387.6" y1="599.21" x2="389.6" y2="599.21" stroke="#231f20" stroke-width="0.8"/>
<line x1="387.6" y1="597.57" x2="389.6" y2="597.57" stroke="#231f20" stroke-width="0.8"/>
<line x1="387.6" y1="586.44" x2="389.6" y2="586.44" stroke="#231f20" stroke-width="0.8"/>
<line x1="387.6" y1="580.78" x2="389.6" y2="580.78" stroke="#231f20" stroke-width="0.8"/>
<line x1="387.6" y1="576.77" x2="389.6" y2="576.77" stroke="#231f20" stroke-width="0.8"/>
<line x1="387.6" y1="573.66" x2="389.6" y2="573.66" stroke="#231f20" stroke-width="0.8"/>
<line x1="387.6" y1="571.12" x2="389.6" y2="571.12" stroke="#231f20" stroke-width="0.8"/>
<line x1="387.6" y1="568.97" x2="389.6" y2="568.97" stroke="#231f20" stroke-width="0.8"/>
<line x1="387.6" y1="567.11" x2="389.6" y2="567.11" stroke="#231f20" stroke-width="0.8"/>
<line x1="387.6" y1="565.47" x2="389.6" y2="565.47" stroke="#231f20" stroke-width="0.8"/>
<line x1="389.6" y1="660.3" x2="485" y2="660.3" stroke="#231f20" stroke-width="1.1"/>
<line x1="395" y1="660.3" x2="395" y2="662.9" stroke="#231f20" stroke-width="1.1"/>
<line x1="407.2" y1="660.3" x2="407.2" y2="662.9" stroke="#231f20" stroke-width="1.1"/>
<line x1="419.2" y1="660.3" x2="419.2" y2="662.9" stroke="#231f20" stroke-width="1.1"/>
<line x1="431.3" y1="660.3" x2="431.3" y2="662.9" stroke="#231f20" stroke-width="1.1"/>
<line x1="443.5" y1="660.3" x2="443.5" y2="662.9" stroke="#231f20" stroke-width="1.1"/>
<line x1="455.5" y1="660.3" x2="455.5" y2="662.9" stroke="#231f20" stroke-width="1.1"/>
<line x1="467.5" y1="660.3" x2="467.5" y2="662.9" stroke="#231f20" stroke-width="1.1"/>
<line x1="479.5" y1="660.3" x2="479.5" y2="662.9" stroke="#231f20" stroke-width="1.1"/>
<text transform="translate(395 666.7) rotate(-90)" x="0" y="2.96" font-size="8.6" text-anchor="end" stroke="#231f20" stroke-width="0.22" textLength="20.2" lengthAdjust="spacingAndGlyphs">EBF1</text>
<text transform="translate(407.2 666.7) rotate(-90)" x="0" y="2.96" font-size="8.6" text-anchor="end" stroke="#231f20" stroke-width="0.22" textLength="20.2" lengthAdjust="spacingAndGlyphs">EBF1</text>
<text transform="translate(419.2 666.7) rotate(-90)" x="0" y="2.96" font-size="8.6" text-anchor="end" stroke="#231f20" stroke-width="0.22" textLength="33.7" lengthAdjust="spacingAndGlyphs">EBF1 ER</text>
<text transform="translate(431.3 666.7) rotate(-90)" x="0" y="2.96" font-size="8.6" text-anchor="end" stroke="#231f20" stroke-width="0.22" textLength="33.7" lengthAdjust="spacingAndGlyphs">EBF1 ER</text>
<text transform="translate(443.5 666.7) rotate(-90)" x="0" y="2.96" font-size="8.6" text-anchor="end" stroke="#231f20" stroke-width="0.22" textLength="20.2" lengthAdjust="spacingAndGlyphs">EBF1</text>
<text transform="translate(455.5 666.7) rotate(-90)" x="0" y="2.96" font-size="8.6" text-anchor="end" stroke="#231f20" stroke-width="0.22" textLength="20.2" lengthAdjust="spacingAndGlyphs">EBF1</text>
<text transform="translate(467.5 666.7) rotate(-90)" x="0" y="2.96" font-size="8.6" text-anchor="end" stroke="#231f20" stroke-width="0.22" textLength="33.7" lengthAdjust="spacingAndGlyphs">EBF1-ER</text>
<text transform="translate(479.5 666.7) rotate(-90)" x="0" y="2.96" font-size="8.6" text-anchor="end" stroke="#231f20" stroke-width="0.22" textLength="33.7" lengthAdjust="spacingAndGlyphs">EBF1-ER</text>
<line x1="392.7" y1="708.8" x2="436.5" y2="708.8" stroke="#6e6e6e" stroke-width="1.6"/>
<line x1="440" y1="708.8" x2="482.7" y2="708.8" stroke="#6e6e6e" stroke-width="1.6"/>
<text x="414.6" y="720.06" font-size="9.2" text-anchor="middle" stroke="#231f20" stroke-width="0.22" textLength="19.5" lengthAdjust="spacingAndGlyphs">Cas9</text>
<text x="461.2" y="720.06" font-size="9.2" text-anchor="middle" stroke="#231f20" stroke-width="0.22" textLength="19.5" lengthAdjust="spacingAndGlyphs">Cas9</text>
<text x="461.2" y="731.16" font-size="9.2" text-anchor="middle" stroke="#231f20" stroke-width="0.22" textLength="25.5" lengthAdjust="spacingAndGlyphs">gPAX5</text>
<circle cx="395.6" cy="591.7" r="2.6" fill="none" stroke="#2e5597" stroke-width="1"/>
<circle cx="394" cy="598.7" r="2.6" fill="none" stroke="#2e5597" stroke-width="1"/>
<circle cx="397.5" cy="598.1" r="2.6" fill="none" stroke="#2e5597" stroke-width="1"/>
<circle cx="394.5" cy="599.8" r="2.6" fill="none" stroke="#2e5597" stroke-width="1"/>
<line x1="391.6" y1="596.5" x2="399.2" y2="596.5" stroke="#231f20" stroke-width="1.1"/>
<circle cx="406.2" cy="589.5" r="3.4" fill="#a6052b"/>
<circle cx="409" cy="590" r="3.4" fill="#a6052b"/>
<circle cx="407.2" cy="592.3" r="3.4" fill="#a6052b"/>
<circle cx="405.8" cy="593" r="3.4" fill="#a6052b"/>
<circle cx="408.8" cy="592.8" r="3.4" fill="#a6052b"/>
<circle cx="419.5" cy="640" r="2.6" fill="none" stroke="#2e5597" stroke-width="1"/>
<circle cx="417.5" cy="649.5" r="2.6" fill="none" stroke="#2e5597" stroke-width="1"/>
<circle cx="421.25" cy="653.7" r="2.6" fill="none" stroke="#2e5597" stroke-width="1"/>
<circle cx="418.25" cy="655.5" r="2.6" fill="none" stroke="#2e5597" stroke-width="1"/>
<line x1="415.4" y1="648.5" x2="423" y2="648.5" stroke="#231f20" stroke-width="1.1"/>
<line x1="419.2" y1="640.5" x2="419.2" y2="655.5" stroke="#231f20" stroke-width="1.1"/>
<line x1="416.7" y1="640.5" x2="421.7" y2="640.5" stroke="#231f20" stroke-width="1.1"/>
<line x1="416.7" y1="655.5" x2="421.7" y2="655.5" stroke="#231f20" stroke-width="1.1"/>
<circle cx="430" cy="568.7" r="3.4" fill="#a6052b"/>
<circle cx="432.8" cy="569.5" r="3.4" fill="#a6052b"/>
<circle cx="430.8" cy="572.5" r="3.4" fill="#a6052b"/>
<circle cx="432.6" cy="572.3" r="3.4" fill="#a6052b"/>
<circle cx="431.4" cy="570.5" r="3.4" fill="#a6052b"/>
<circle cx="443.8" cy="582.4" r="2.6" fill="none" stroke="#2e5597" stroke-width="1"/>
<circle cx="441.8" cy="585.5" r="2.6" fill="none" stroke="#2e5597" stroke-width="1"/>
<circle cx="445.2" cy="586" r="2.6" fill="none" stroke="#2e5597" stroke-width="1"/>
<circle cx="443.2" cy="588.8" r="2.6" fill="none" stroke="#2e5597" stroke-width="1"/>
<line x1="440.5" y1="585.5" x2="446.5" y2="585.5" stroke="#231f20" stroke-width="1.1"/>
<circle cx="453.8" cy="582.6" r="3.4" fill="#a6052b"/>
<circle cx="456.6" cy="582.5" r="3.4" fill="#a6052b"/>
<circle cx="454.4" cy="585.3" r="3.4" fill="#a6052b"/>
<circle cx="456.2" cy="585.4" r="3.4" fill="#a6052b"/>
<circle cx="455.2" cy="584" r="3.4" fill="#a6052b"/>
<circle cx="466.3" cy="619.9" r="2.6" fill="none" stroke="#2e5597" stroke-width="1"/>
<circle cx="469" cy="619.9" r="2.6" fill="none" stroke="#2e5597" stroke-width="1"/>
<circle cx="469" cy="624.6" r="2.6" fill="none" stroke="#2e5597" stroke-width="1"/>
<circle cx="466.1" cy="628.6" r="2.6" fill="none" stroke="#2e5597" stroke-width="1"/>
<line x1="463.7" y1="623.5" x2="471.3" y2="623.5" stroke="#231f20" stroke-width="1.1"/>
<circle cx="477.6" cy="571.4" r="3.4" fill="#a6052b"/>
<circle cx="480.4" cy="571.8" r="3.4" fill="#a6052b"/>
<circle cx="478.2" cy="574.2" r="3.4" fill="#a6052b"/>
<circle cx="480.2" cy="574" r="3.4" fill="#a6052b"/>
<circle cx="479.1" cy="572.6" r="3.4" fill="#a6052b"/>
<polyline points="417.5,553.3 417.5,550.5 465.6,550.5 465.6,553.7" fill="none" stroke="#231f20" stroke-width="1"/>
<polygon points="440.80,545.20 441.30,546.21 442.42,546.37 441.61,547.16 441.80,548.28 440.80,547.75 439.80,548.28 439.99,547.16 439.18,546.37 440.30,546.21" fill="#231f20"/>
<polygon points="444.60,545.20 445.10,546.21 446.22,546.37 445.41,547.16 445.60,548.28 444.60,547.75 443.60,548.28 443.79,547.16 442.98,546.37 444.10,546.21" fill="#231f20"/>
<polyline points="417.5,564.1 417.5,561.2 431.9,561.2 431.9,564.1" fill="none" stroke="#231f20" stroke-width="1"/>
<polygon points="419.00,555.80 419.50,556.81 420.62,556.97 419.81,557.76 420.00,558.88 419.00,558.35 418.00,558.88 418.19,557.76 417.38,556.97 418.50,556.81" fill="#231f20"/>
<polygon points="422.80,555.80 423.30,556.81 424.42,556.97 423.61,557.76 423.80,558.88 422.80,558.35 421.80,558.88 421.99,557.76 421.18,556.97 422.30,556.81" fill="#231f20"/>
<polygon points="426.60,555.80 427.10,556.81 428.22,556.97 427.41,557.76 427.60,558.88 426.60,558.35 425.60,558.88 425.79,557.76 424.98,556.97 426.10,556.81" fill="#231f20"/>
<polygon points="430.40,555.80 430.90,556.81 432.02,556.97 431.21,557.76 431.40,558.88 430.40,558.35 429.40,558.88 429.59,557.76 428.78,556.97 429.90,556.81" fill="#231f20"/>
<polyline points="465.3,566.8 465.3,563.8 479.4,563.8 479.4,566.8" fill="none" stroke="#231f20" stroke-width="1"/>
<polygon points="466.65,558.60 467.15,559.61 468.27,559.77 467.46,560.56 467.65,561.68 466.65,561.15 465.65,561.68 465.84,560.56 465.03,559.77 466.15,559.61" fill="#231f20"/>
<polygon points="470.45,558.60 470.95,559.61 472.07,559.77 471.26,560.56 471.45,561.68 470.45,561.15 469.45,561.68 469.64,560.56 468.83,559.77 469.95,559.61" fill="#231f20"/>
<polygon points="474.25,558.60 474.75,559.61 475.87,559.77 475.06,560.56 475.25,561.68 474.25,561.15 473.25,561.68 473.44,560.56 472.63,559.77 473.75,559.61" fill="#231f20"/>
<polygon points="478.05,558.60 478.55,559.61 479.67,559.77 478.86,560.56 479.05,561.68 478.05,561.15 477.05,561.68 477.24,560.56 476.43,559.77 477.55,559.61" fill="#231f20"/>
<rect x="0.5" y="0.5" width="519" height="739" fill="none" stroke="#000" stroke-width="1.2"/>
</svg></body></html>
